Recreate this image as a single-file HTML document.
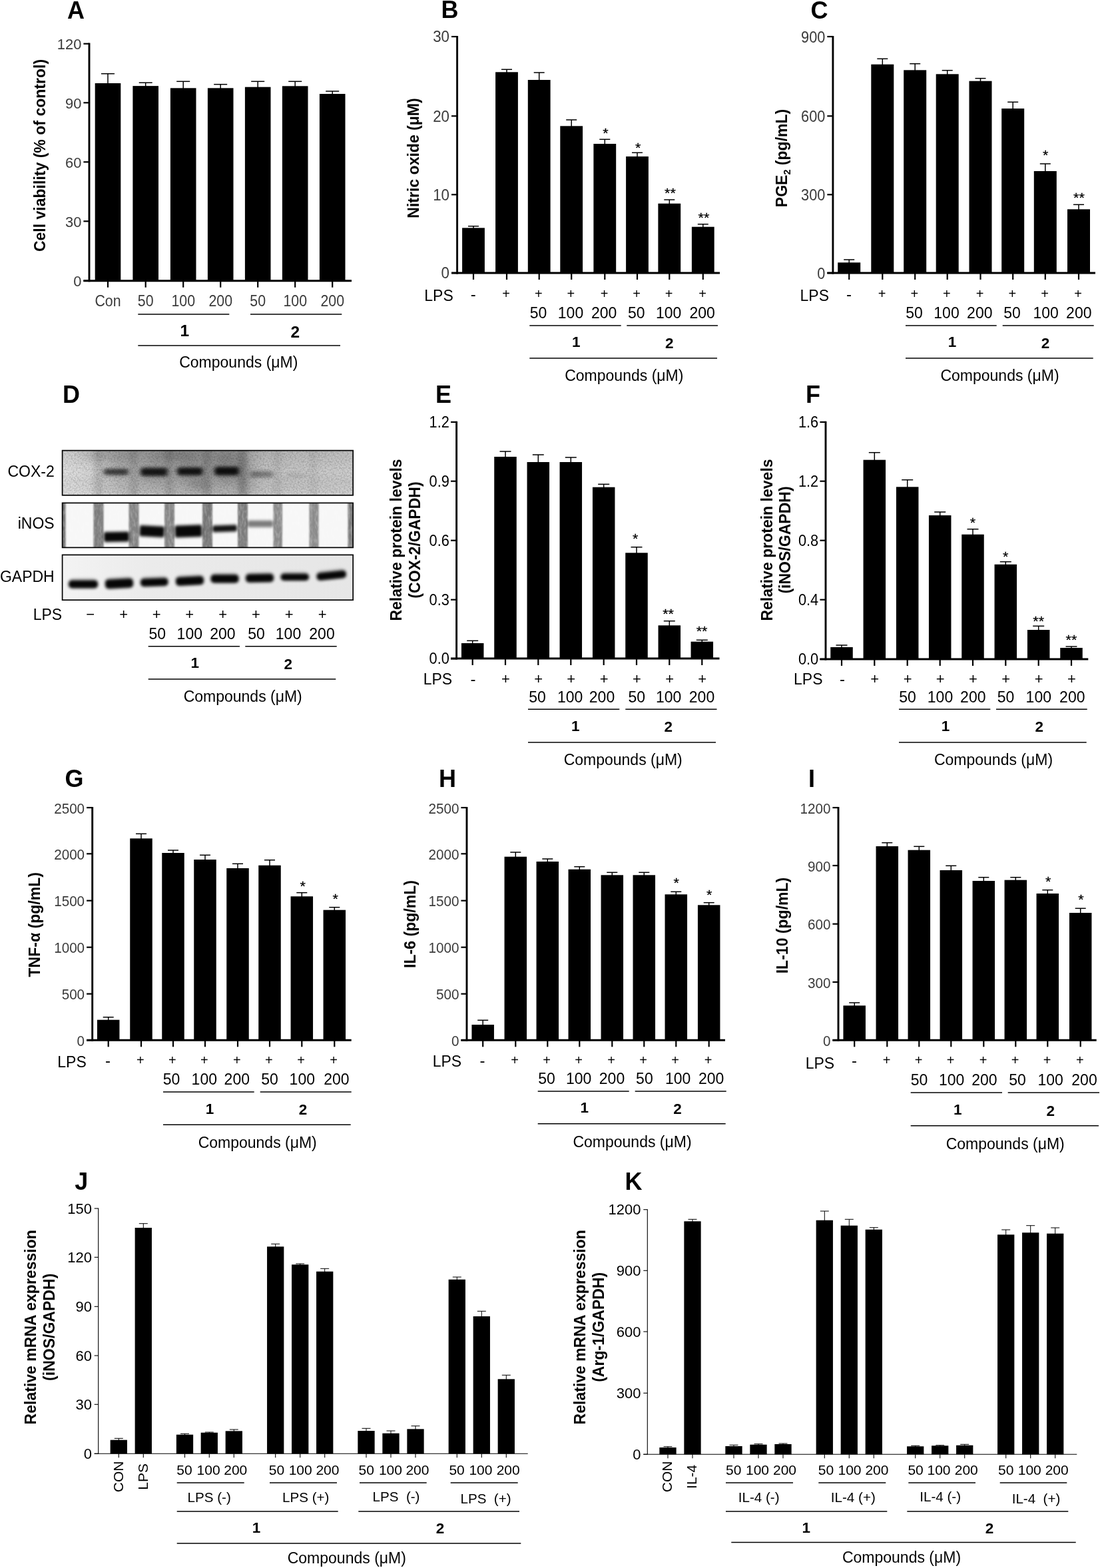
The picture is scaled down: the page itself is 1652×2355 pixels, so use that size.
<!DOCTYPE html>
<html lang="en"><head><meta charset="utf-8"><title>Figure</title>
<style>
html,body{margin:0;padding:0;background:#fff;}
body{width:1652px;height:2355px;font-family:'Liberation Sans', Arial, Helvetica, sans-serif;}
svg{display:block;}
text{white-space:pre;}
</style></head><body>
<svg width="1652" height="2355" viewBox="0 0 1652 2355" font-family="'Liberation Sans', Arial, Helvetica, sans-serif" role="img" aria-label="Figure panels A to K">
<rect width="1652" height="2355" fill="#fff"/>
<defs><filter id="soft" x="-10%" y="-20%" width="120%" height="140%"><feGaussianBlur stdDeviation="0.35"/></filter></defs>
<g id="panel-A">
<text transform="translate(101.00 27.70) scale(0.96 1)" font-size="37.5" text-anchor="start" font-weight="bold" fill="#000">A</text>
<line x1="162.00" y1="110.70" x2="162.00" y2="126.00" stroke="#000" stroke-width="1.5"/>
<line x1="152.00" y1="110.70" x2="172.00" y2="110.70" stroke="#000" stroke-width="1.5"/>
<rect x="142.70" y="125.00" width="38.60" height="296.70" fill="#000"/>
<line x1="218.70" y1="124.20" x2="218.70" y2="130.10" stroke="#000" stroke-width="1.5"/>
<line x1="208.70" y1="124.20" x2="228.70" y2="124.20" stroke="#000" stroke-width="1.5"/>
<rect x="199.40" y="129.10" width="38.60" height="292.60" fill="#000"/>
<line x1="275.20" y1="122.30" x2="275.20" y2="133.30" stroke="#000" stroke-width="1.5"/>
<line x1="265.20" y1="122.30" x2="285.20" y2="122.30" stroke="#000" stroke-width="1.5"/>
<rect x="255.90" y="132.30" width="38.60" height="289.40" fill="#000"/>
<line x1="331.20" y1="126.70" x2="331.20" y2="133.30" stroke="#000" stroke-width="1.5"/>
<line x1="321.20" y1="126.70" x2="341.20" y2="126.70" stroke="#000" stroke-width="1.5"/>
<rect x="311.90" y="132.30" width="38.60" height="289.40" fill="#000"/>
<line x1="387.20" y1="122.30" x2="387.20" y2="131.70" stroke="#000" stroke-width="1.5"/>
<line x1="377.20" y1="122.30" x2="397.20" y2="122.30" stroke="#000" stroke-width="1.5"/>
<rect x="367.90" y="130.70" width="38.60" height="291.00" fill="#000"/>
<line x1="443.20" y1="122.30" x2="443.20" y2="130.30" stroke="#000" stroke-width="1.5"/>
<line x1="433.20" y1="122.30" x2="453.20" y2="122.30" stroke="#000" stroke-width="1.5"/>
<rect x="423.90" y="129.30" width="38.60" height="292.40" fill="#000"/>
<line x1="499.20" y1="137.00" x2="499.20" y2="142.00" stroke="#000" stroke-width="1.5"/>
<line x1="489.20" y1="137.00" x2="509.20" y2="137.00" stroke="#000" stroke-width="1.5"/>
<rect x="479.90" y="141.00" width="38.60" height="280.70" fill="#000"/>
<line x1="134.00" y1="64.60" x2="134.00" y2="423.15" stroke="#000" stroke-width="2.9"/>
<line x1="125.40" y1="421.70" x2="528.00" y2="421.70" stroke="#000" stroke-width="2.9"/>
<line x1="125.40" y1="65.70" x2="134.00" y2="65.70" stroke="#000" stroke-width="2.2"/>
<text transform="translate(122.40 74.27) scale(0.97 1)" font-size="22.6" text-anchor="end" fill="#3a3a3a" filter="url(#soft)">120</text>
<line x1="125.40" y1="154.30" x2="134.00" y2="154.30" stroke="#000" stroke-width="2.2"/>
<text transform="translate(122.40 162.87) scale(0.97 1)" font-size="22.6" text-anchor="end" fill="#3a3a3a" filter="url(#soft)">90</text>
<line x1="125.40" y1="243.30" x2="134.00" y2="243.30" stroke="#000" stroke-width="2.2"/>
<text transform="translate(122.40 251.87) scale(0.97 1)" font-size="22.6" text-anchor="end" fill="#3a3a3a" filter="url(#soft)">60</text>
<line x1="125.40" y1="332.30" x2="134.00" y2="332.30" stroke="#000" stroke-width="2.2"/>
<text transform="translate(122.40 340.87) scale(0.97 1)" font-size="22.6" text-anchor="end" fill="#3a3a3a" filter="url(#soft)">30</text>
<line x1="125.40" y1="421.70" x2="134.00" y2="421.70" stroke="#000" stroke-width="2.2"/>
<text transform="translate(122.40 430.27) scale(0.97 1)" font-size="22.6" text-anchor="end" fill="#3a3a3a" filter="url(#soft)">0</text>
<line x1="162.00" y1="421.70" x2="162.00" y2="431.70" stroke="#000" stroke-width="2.2"/>
<line x1="218.70" y1="421.70" x2="218.70" y2="431.70" stroke="#000" stroke-width="2.2"/>
<line x1="275.20" y1="421.70" x2="275.20" y2="431.70" stroke="#000" stroke-width="2.2"/>
<line x1="331.20" y1="421.70" x2="331.20" y2="431.70" stroke="#000" stroke-width="2.2"/>
<line x1="387.20" y1="421.70" x2="387.20" y2="431.70" stroke="#000" stroke-width="2.2"/>
<line x1="443.20" y1="421.70" x2="443.20" y2="431.70" stroke="#000" stroke-width="2.2"/>
<line x1="499.20" y1="421.70" x2="499.20" y2="431.70" stroke="#000" stroke-width="2.2"/>
<text transform="translate(67.70 233.50) rotate(-90) scale(0.96 1)" font-size="24" text-anchor="middle" font-weight="bold" fill="#000">Cell viability (% of control)</text>
</g>
<g id="panel-B">
<text transform="translate(662.50 27.30) scale(0.96 1)" font-size="37.5" text-anchor="start" font-weight="bold" fill="#000">B</text>
<line x1="711.00" y1="339.70" x2="711.00" y2="343.30" stroke="#000" stroke-width="1.5"/>
<line x1="703.00" y1="339.70" x2="719.00" y2="339.70" stroke="#000" stroke-width="1.5"/>
<rect x="694.10" y="342.30" width="33.80" height="67.70" fill="#000"/>
<line x1="761.00" y1="104.30" x2="761.00" y2="109.30" stroke="#000" stroke-width="1.5"/>
<line x1="753.00" y1="104.30" x2="769.00" y2="104.30" stroke="#000" stroke-width="1.5"/>
<rect x="744.10" y="108.30" width="33.80" height="301.70" fill="#000"/>
<line x1="809.70" y1="109.00" x2="809.70" y2="121.00" stroke="#000" stroke-width="1.5"/>
<line x1="801.70" y1="109.00" x2="817.70" y2="109.00" stroke="#000" stroke-width="1.5"/>
<rect x="792.80" y="120.00" width="33.80" height="290.00" fill="#000"/>
<line x1="858.20" y1="180.00" x2="858.20" y2="190.30" stroke="#000" stroke-width="1.5"/>
<line x1="850.20" y1="180.00" x2="866.20" y2="180.00" stroke="#000" stroke-width="1.5"/>
<rect x="841.30" y="189.30" width="33.80" height="220.70" fill="#000"/>
<line x1="908.30" y1="209.30" x2="908.30" y2="217.00" stroke="#000" stroke-width="1.5"/>
<line x1="900.30" y1="209.30" x2="916.30" y2="209.30" stroke="#000" stroke-width="1.5"/>
<rect x="891.40" y="216.00" width="33.80" height="194.00" fill="#000"/>
<line x1="957.00" y1="229.30" x2="957.00" y2="236.00" stroke="#000" stroke-width="1.5"/>
<line x1="949.00" y1="229.30" x2="965.00" y2="229.30" stroke="#000" stroke-width="1.5"/>
<rect x="940.10" y="235.00" width="33.80" height="175.00" fill="#000"/>
<line x1="1005.30" y1="300.00" x2="1005.30" y2="306.70" stroke="#000" stroke-width="1.5"/>
<line x1="997.30" y1="300.00" x2="1013.30" y2="300.00" stroke="#000" stroke-width="1.5"/>
<rect x="988.40" y="305.70" width="33.80" height="104.30" fill="#000"/>
<line x1="1055.80" y1="336.70" x2="1055.80" y2="341.70" stroke="#000" stroke-width="1.5"/>
<line x1="1047.80" y1="336.70" x2="1063.80" y2="336.70" stroke="#000" stroke-width="1.5"/>
<rect x="1038.90" y="340.70" width="33.80" height="69.30" fill="#000"/>
<line x1="686.60" y1="54.10" x2="686.60" y2="411.45" stroke="#000" stroke-width="2.9"/>
<line x1="678.00" y1="410.00" x2="1081.00" y2="410.00" stroke="#000" stroke-width="2.9"/>
<line x1="678.00" y1="55.00" x2="686.60" y2="55.00" stroke="#000" stroke-width="2.2"/>
<text transform="translate(675.00 63.48) scale(0.95 1)" font-size="23.5" text-anchor="end" fill="#3a3a3a" filter="url(#soft)">30</text>
<line x1="678.00" y1="174.30" x2="686.60" y2="174.30" stroke="#000" stroke-width="2.2"/>
<text transform="translate(675.00 182.78) scale(0.95 1)" font-size="23.5" text-anchor="end" fill="#3a3a3a" filter="url(#soft)">20</text>
<line x1="678.00" y1="292.30" x2="686.60" y2="292.30" stroke="#000" stroke-width="2.2"/>
<text transform="translate(675.00 300.78) scale(0.95 1)" font-size="23.5" text-anchor="end" fill="#3a3a3a" filter="url(#soft)">10</text>
<line x1="678.00" y1="410.00" x2="686.60" y2="410.00" stroke="#000" stroke-width="2.2"/>
<text transform="translate(675.00 418.48) scale(0.95 1)" font-size="23.5" text-anchor="end" fill="#3a3a3a" filter="url(#soft)">0</text>
<line x1="711.00" y1="410.00" x2="711.00" y2="420.00" stroke="#000" stroke-width="2.2"/>
<line x1="761.00" y1="410.00" x2="761.00" y2="420.00" stroke="#000" stroke-width="2.2"/>
<line x1="809.70" y1="410.00" x2="809.70" y2="420.00" stroke="#000" stroke-width="2.2"/>
<line x1="858.20" y1="410.00" x2="858.20" y2="420.00" stroke="#000" stroke-width="2.2"/>
<line x1="908.30" y1="410.00" x2="908.30" y2="420.00" stroke="#000" stroke-width="2.2"/>
<line x1="957.00" y1="410.00" x2="957.00" y2="420.00" stroke="#000" stroke-width="2.2"/>
<line x1="1005.30" y1="410.00" x2="1005.30" y2="420.00" stroke="#000" stroke-width="2.2"/>
<line x1="1055.80" y1="410.00" x2="1055.80" y2="420.00" stroke="#000" stroke-width="2.2"/>
<text transform="translate(629.30 237.50) rotate(-90) scale(0.96 1)" font-size="24" text-anchor="middle" font-weight="bold" fill="#000">Nitric oxide (μM)</text>
<text transform="translate(909.50 207.00) scale(1.08 1)" font-size="20" text-anchor="middle" fill="#000" stroke="#000" stroke-width="0.25">*</text>
<text transform="translate(958.20 229.00) scale(1.08 1)" font-size="20" text-anchor="middle" fill="#000" stroke="#000" stroke-width="0.25">*</text>
<text transform="translate(1006.50 297.00) scale(1.08 1)" font-size="20" text-anchor="middle" fill="#000" stroke="#000" stroke-width="0.25">**</text>
<text transform="translate(1057.00 334.00) scale(1.08 1)" font-size="20" text-anchor="middle" fill="#000" stroke="#000" stroke-width="0.25">**</text>
</g>
<g id="panel-C">
<text transform="translate(1217.50 28.20) scale(0.96 1)" font-size="37.5" text-anchor="start" font-weight="bold" fill="#000">C</text>
<line x1="1275.20" y1="390.00" x2="1275.20" y2="395.30" stroke="#000" stroke-width="1.5"/>
<line x1="1267.20" y1="390.00" x2="1283.20" y2="390.00" stroke="#000" stroke-width="1.5"/>
<rect x="1258.20" y="394.30" width="34.00" height="15.70" fill="#000"/>
<line x1="1325.30" y1="88.30" x2="1325.30" y2="97.70" stroke="#000" stroke-width="1.5"/>
<line x1="1317.30" y1="88.30" x2="1333.30" y2="88.30" stroke="#000" stroke-width="1.5"/>
<rect x="1308.30" y="96.70" width="34.00" height="313.30" fill="#000"/>
<line x1="1374.20" y1="95.70" x2="1374.20" y2="106.30" stroke="#000" stroke-width="1.5"/>
<line x1="1366.20" y1="95.70" x2="1382.20" y2="95.70" stroke="#000" stroke-width="1.5"/>
<rect x="1357.20" y="105.30" width="34.00" height="304.70" fill="#000"/>
<line x1="1422.70" y1="105.70" x2="1422.70" y2="112.30" stroke="#000" stroke-width="1.5"/>
<line x1="1414.70" y1="105.70" x2="1430.70" y2="105.70" stroke="#000" stroke-width="1.5"/>
<rect x="1405.70" y="111.30" width="34.00" height="298.70" fill="#000"/>
<line x1="1472.50" y1="117.70" x2="1472.50" y2="122.70" stroke="#000" stroke-width="1.5"/>
<line x1="1464.50" y1="117.70" x2="1480.50" y2="117.70" stroke="#000" stroke-width="1.5"/>
<rect x="1455.50" y="121.70" width="34.00" height="288.30" fill="#000"/>
<line x1="1521.20" y1="153.30" x2="1521.20" y2="164.00" stroke="#000" stroke-width="1.5"/>
<line x1="1513.20" y1="153.30" x2="1529.20" y2="153.30" stroke="#000" stroke-width="1.5"/>
<rect x="1504.20" y="163.00" width="34.00" height="247.00" fill="#000"/>
<line x1="1569.80" y1="246.00" x2="1569.80" y2="258.00" stroke="#000" stroke-width="1.5"/>
<line x1="1561.80" y1="246.00" x2="1577.80" y2="246.00" stroke="#000" stroke-width="1.5"/>
<rect x="1552.80" y="257.00" width="34.00" height="153.00" fill="#000"/>
<line x1="1620.00" y1="307.30" x2="1620.00" y2="315.30" stroke="#000" stroke-width="1.5"/>
<line x1="1612.00" y1="307.30" x2="1628.00" y2="307.30" stroke="#000" stroke-width="1.5"/>
<rect x="1603.00" y="314.30" width="34.00" height="95.70" fill="#000"/>
<line x1="1250.90" y1="54.10" x2="1250.90" y2="411.45" stroke="#000" stroke-width="2.9"/>
<line x1="1242.30" y1="410.00" x2="1645.00" y2="410.00" stroke="#000" stroke-width="2.9"/>
<line x1="1242.30" y1="55.00" x2="1250.90" y2="55.00" stroke="#000" stroke-width="2.2"/>
<text transform="translate(1239.30 63.88) scale(0.925 1)" font-size="23.5" text-anchor="end" fill="#3a3a3a" filter="url(#soft)">900</text>
<line x1="1242.30" y1="174.30" x2="1250.90" y2="174.30" stroke="#000" stroke-width="2.2"/>
<text transform="translate(1239.30 183.18) scale(0.925 1)" font-size="23.5" text-anchor="end" fill="#3a3a3a" filter="url(#soft)">600</text>
<line x1="1242.30" y1="292.30" x2="1250.90" y2="292.30" stroke="#000" stroke-width="2.2"/>
<text transform="translate(1239.30 301.18) scale(0.925 1)" font-size="23.5" text-anchor="end" fill="#3a3a3a" filter="url(#soft)">300</text>
<line x1="1242.30" y1="410.00" x2="1250.90" y2="410.00" stroke="#000" stroke-width="2.2"/>
<text transform="translate(1239.30 418.88) scale(0.925 1)" font-size="23.5" text-anchor="end" fill="#3a3a3a" filter="url(#soft)">0</text>
<line x1="1275.20" y1="410.00" x2="1275.20" y2="420.00" stroke="#000" stroke-width="2.2"/>
<line x1="1325.30" y1="410.00" x2="1325.30" y2="420.00" stroke="#000" stroke-width="2.2"/>
<line x1="1374.20" y1="410.00" x2="1374.20" y2="420.00" stroke="#000" stroke-width="2.2"/>
<line x1="1422.70" y1="410.00" x2="1422.70" y2="420.00" stroke="#000" stroke-width="2.2"/>
<line x1="1472.50" y1="410.00" x2="1472.50" y2="420.00" stroke="#000" stroke-width="2.2"/>
<line x1="1521.20" y1="410.00" x2="1521.20" y2="420.00" stroke="#000" stroke-width="2.2"/>
<line x1="1569.80" y1="410.00" x2="1569.80" y2="420.00" stroke="#000" stroke-width="2.2"/>
<line x1="1620.00" y1="410.00" x2="1620.00" y2="420.00" stroke="#000" stroke-width="2.2"/>
<text transform="translate(1182.30 237.50) rotate(-90) scale(0.96 1)" font-size="24" text-anchor="middle" font-weight="bold" fill="#000">PGE<tspan font-size="15" dy="5">2</tspan><tspan dy="-5"> (pg/mL)</tspan></text>
<text transform="translate(1570.30 240.00) scale(1.08 1)" font-size="20" text-anchor="middle" fill="#000" stroke="#000" stroke-width="0.25">*</text>
<text transform="translate(1620.50 304.00) scale(1.08 1)" font-size="20" text-anchor="middle" fill="#000" stroke="#000" stroke-width="0.25">**</text>
</g>
<g id="panel-E">
<text transform="translate(654.00 605.30) scale(0.96 1)" font-size="37.5" text-anchor="start" font-weight="bold" fill="#000">E</text>
<line x1="709.70" y1="962.30" x2="709.70" y2="967.00" stroke="#000" stroke-width="1.5"/>
<line x1="701.20" y1="962.30" x2="718.20" y2="962.30" stroke="#000" stroke-width="1.5"/>
<rect x="692.95" y="966.00" width="33.50" height="23.00" fill="#000"/>
<line x1="759.00" y1="678.00" x2="759.00" y2="687.00" stroke="#000" stroke-width="1.5"/>
<line x1="750.50" y1="678.00" x2="767.50" y2="678.00" stroke="#000" stroke-width="1.5"/>
<rect x="742.25" y="686.00" width="33.50" height="303.00" fill="#000"/>
<line x1="808.30" y1="683.00" x2="808.30" y2="695.00" stroke="#000" stroke-width="1.5"/>
<line x1="799.80" y1="683.00" x2="816.80" y2="683.00" stroke="#000" stroke-width="1.5"/>
<rect x="791.55" y="694.00" width="33.50" height="295.00" fill="#000"/>
<line x1="857.30" y1="687.00" x2="857.30" y2="695.00" stroke="#000" stroke-width="1.5"/>
<line x1="848.80" y1="687.00" x2="865.80" y2="687.00" stroke="#000" stroke-width="1.5"/>
<rect x="840.55" y="694.00" width="33.50" height="295.00" fill="#000"/>
<line x1="906.70" y1="727.30" x2="906.70" y2="732.70" stroke="#000" stroke-width="1.5"/>
<line x1="898.20" y1="727.30" x2="915.20" y2="727.30" stroke="#000" stroke-width="1.5"/>
<rect x="889.95" y="731.70" width="33.50" height="257.30" fill="#000"/>
<line x1="956.00" y1="821.70" x2="956.00" y2="831.30" stroke="#000" stroke-width="1.5"/>
<line x1="947.50" y1="821.70" x2="964.50" y2="821.70" stroke="#000" stroke-width="1.5"/>
<rect x="939.25" y="830.30" width="33.50" height="158.70" fill="#000"/>
<line x1="1005.30" y1="932.70" x2="1005.30" y2="940.30" stroke="#000" stroke-width="1.5"/>
<line x1="996.80" y1="932.70" x2="1013.80" y2="932.70" stroke="#000" stroke-width="1.5"/>
<rect x="988.55" y="939.30" width="33.50" height="49.70" fill="#000"/>
<line x1="1054.30" y1="961.30" x2="1054.30" y2="964.70" stroke="#000" stroke-width="1.5"/>
<line x1="1045.80" y1="961.30" x2="1062.80" y2="961.30" stroke="#000" stroke-width="1.5"/>
<rect x="1037.55" y="963.70" width="33.50" height="25.30" fill="#000"/>
<line x1="685.60" y1="632.80" x2="685.60" y2="990.45" stroke="#000" stroke-width="2.9"/>
<line x1="677.00" y1="989.00" x2="1080.50" y2="989.00" stroke="#000" stroke-width="2.9"/>
<line x1="677.00" y1="633.90" x2="685.60" y2="633.90" stroke="#000" stroke-width="2.2"/>
<text transform="translate(674.80 641.92) scale(0.935 1)" font-size="23.3" text-anchor="end" fill="#000">1.2</text>
<line x1="677.00" y1="722.70" x2="685.60" y2="722.70" stroke="#000" stroke-width="2.2"/>
<text transform="translate(674.80 730.72) scale(0.935 1)" font-size="23.3" text-anchor="end" fill="#000">0.9</text>
<line x1="677.00" y1="811.70" x2="685.60" y2="811.70" stroke="#000" stroke-width="2.2"/>
<text transform="translate(674.80 819.72) scale(0.935 1)" font-size="23.3" text-anchor="end" fill="#000">0.6</text>
<line x1="677.00" y1="900.70" x2="685.60" y2="900.70" stroke="#000" stroke-width="2.2"/>
<text transform="translate(674.80 908.72) scale(0.935 1)" font-size="23.3" text-anchor="end" fill="#000">0.3</text>
<line x1="677.00" y1="989.30" x2="685.60" y2="989.30" stroke="#000" stroke-width="2.2"/>
<text transform="translate(674.80 997.32) scale(0.935 1)" font-size="23.3" text-anchor="end" fill="#000">0.0</text>
<line x1="709.70" y1="989.00" x2="709.70" y2="999.00" stroke="#000" stroke-width="2.2"/>
<line x1="759.00" y1="989.00" x2="759.00" y2="999.00" stroke="#000" stroke-width="2.2"/>
<line x1="808.30" y1="989.00" x2="808.30" y2="999.00" stroke="#000" stroke-width="2.2"/>
<line x1="857.30" y1="989.00" x2="857.30" y2="999.00" stroke="#000" stroke-width="2.2"/>
<line x1="906.70" y1="989.00" x2="906.70" y2="999.00" stroke="#000" stroke-width="2.2"/>
<line x1="956.00" y1="989.00" x2="956.00" y2="999.00" stroke="#000" stroke-width="2.2"/>
<line x1="1005.30" y1="989.00" x2="1005.30" y2="999.00" stroke="#000" stroke-width="2.2"/>
<line x1="1054.30" y1="989.00" x2="1054.30" y2="999.00" stroke="#000" stroke-width="2.2"/>
<text transform="translate(603.30 811.00) rotate(-90) scale(0.96 1)" font-size="24" text-anchor="middle" font-weight="bold" fill="#000">Relative protein levels</text>
<text transform="translate(630.80 811.00) rotate(-90) scale(0.96 1)" font-size="24" text-anchor="middle" font-weight="bold" fill="#000">(COX-2/GAPDH)</text>
<text transform="translate(954.30 815.50) scale(1.08 1)" font-size="20" text-anchor="middle" fill="#000" stroke="#000" stroke-width="0.25">*</text>
<text transform="translate(1003.60 929.40) scale(1.08 1)" font-size="20" text-anchor="middle" fill="#000" stroke="#000" stroke-width="0.25">**</text>
<text transform="translate(1054.10 955.00) scale(1.08 1)" font-size="20" text-anchor="middle" fill="#000" stroke="#000" stroke-width="0.25">**</text>
</g>
<g id="panel-F">
<text transform="translate(1210.00 605.30) scale(0.96 1)" font-size="37.5" text-anchor="start" font-weight="bold" fill="#000">F</text>
<line x1="1264.00" y1="969.00" x2="1264.00" y2="973.00" stroke="#000" stroke-width="1.5"/>
<line x1="1255.50" y1="969.00" x2="1272.50" y2="969.00" stroke="#000" stroke-width="1.5"/>
<rect x="1247.25" y="972.00" width="33.50" height="18.00" fill="#000"/>
<line x1="1313.30" y1="679.70" x2="1313.30" y2="691.70" stroke="#000" stroke-width="1.5"/>
<line x1="1304.80" y1="679.70" x2="1321.80" y2="679.70" stroke="#000" stroke-width="1.5"/>
<rect x="1296.55" y="690.70" width="33.50" height="299.30" fill="#000"/>
<line x1="1362.70" y1="720.70" x2="1362.70" y2="732.30" stroke="#000" stroke-width="1.5"/>
<line x1="1354.20" y1="720.70" x2="1371.20" y2="720.70" stroke="#000" stroke-width="1.5"/>
<rect x="1345.95" y="731.30" width="33.50" height="258.70" fill="#000"/>
<line x1="1411.70" y1="769.00" x2="1411.70" y2="775.00" stroke="#000" stroke-width="1.5"/>
<line x1="1403.20" y1="769.00" x2="1420.20" y2="769.00" stroke="#000" stroke-width="1.5"/>
<rect x="1394.95" y="774.00" width="33.50" height="216.00" fill="#000"/>
<line x1="1461.00" y1="794.70" x2="1461.00" y2="803.70" stroke="#000" stroke-width="1.5"/>
<line x1="1452.50" y1="794.70" x2="1469.50" y2="794.70" stroke="#000" stroke-width="1.5"/>
<rect x="1444.25" y="802.70" width="33.50" height="187.30" fill="#000"/>
<line x1="1510.30" y1="843.70" x2="1510.30" y2="848.70" stroke="#000" stroke-width="1.5"/>
<line x1="1501.80" y1="843.70" x2="1518.80" y2="843.70" stroke="#000" stroke-width="1.5"/>
<rect x="1493.55" y="847.70" width="33.50" height="142.30" fill="#000"/>
<line x1="1559.70" y1="940.30" x2="1559.70" y2="947.00" stroke="#000" stroke-width="1.5"/>
<line x1="1551.20" y1="940.30" x2="1568.20" y2="940.30" stroke="#000" stroke-width="1.5"/>
<rect x="1542.95" y="946.00" width="33.50" height="44.00" fill="#000"/>
<line x1="1609.00" y1="971.00" x2="1609.00" y2="974.00" stroke="#000" stroke-width="1.5"/>
<line x1="1600.50" y1="971.00" x2="1617.50" y2="971.00" stroke="#000" stroke-width="1.5"/>
<rect x="1592.25" y="973.00" width="33.50" height="17.00" fill="#000"/>
<line x1="1240.00" y1="632.80" x2="1240.00" y2="991.45" stroke="#000" stroke-width="2.9"/>
<line x1="1231.40" y1="990.00" x2="1634.30" y2="990.00" stroke="#000" stroke-width="2.9"/>
<line x1="1231.40" y1="633.90" x2="1240.00" y2="633.90" stroke="#000" stroke-width="2.2"/>
<text transform="translate(1229.20 641.92) scale(0.935 1)" font-size="23.3" text-anchor="end" fill="#000">1.6</text>
<line x1="1231.40" y1="722.70" x2="1240.00" y2="722.70" stroke="#000" stroke-width="2.2"/>
<text transform="translate(1229.20 730.72) scale(0.935 1)" font-size="23.3" text-anchor="end" fill="#000">1.2</text>
<line x1="1231.40" y1="811.70" x2="1240.00" y2="811.70" stroke="#000" stroke-width="2.2"/>
<text transform="translate(1229.20 819.72) scale(0.935 1)" font-size="23.3" text-anchor="end" fill="#000">0.8</text>
<line x1="1231.40" y1="900.70" x2="1240.00" y2="900.70" stroke="#000" stroke-width="2.2"/>
<text transform="translate(1229.20 908.72) scale(0.935 1)" font-size="23.3" text-anchor="end" fill="#000">0.4</text>
<line x1="1231.40" y1="990.00" x2="1240.00" y2="990.00" stroke="#000" stroke-width="2.2"/>
<text transform="translate(1229.20 998.02) scale(0.935 1)" font-size="23.3" text-anchor="end" fill="#000">0.0</text>
<line x1="1264.00" y1="990.00" x2="1264.00" y2="1000.00" stroke="#000" stroke-width="2.2"/>
<line x1="1313.30" y1="990.00" x2="1313.30" y2="1000.00" stroke="#000" stroke-width="2.2"/>
<line x1="1362.70" y1="990.00" x2="1362.70" y2="1000.00" stroke="#000" stroke-width="2.2"/>
<line x1="1411.70" y1="990.00" x2="1411.70" y2="1000.00" stroke="#000" stroke-width="2.2"/>
<line x1="1461.00" y1="990.00" x2="1461.00" y2="1000.00" stroke="#000" stroke-width="2.2"/>
<line x1="1510.30" y1="990.00" x2="1510.30" y2="1000.00" stroke="#000" stroke-width="2.2"/>
<line x1="1559.70" y1="990.00" x2="1559.70" y2="1000.00" stroke="#000" stroke-width="2.2"/>
<line x1="1609.00" y1="990.00" x2="1609.00" y2="1000.00" stroke="#000" stroke-width="2.2"/>
<text transform="translate(1159.70 811.00) rotate(-90) scale(0.96 1)" font-size="24" text-anchor="middle" font-weight="bold" fill="#000">Relative protein levels</text>
<text transform="translate(1187.20 811.00) rotate(-90) scale(0.96 1)" font-size="24" text-anchor="middle" font-weight="bold" fill="#000">(iNOS/GAPDH)</text>
<text transform="translate(1461.00 791.50) scale(1.08 1)" font-size="20" text-anchor="middle" fill="#000" stroke="#000" stroke-width="0.25">*</text>
<text transform="translate(1510.30 842.50) scale(1.08 1)" font-size="20" text-anchor="middle" fill="#000" stroke="#000" stroke-width="0.25">*</text>
<text transform="translate(1559.70 940.00) scale(1.08 1)" font-size="20" text-anchor="middle" fill="#000" stroke="#000" stroke-width="0.25">**</text>
<text transform="translate(1609.00 968.00) scale(1.08 1)" font-size="20" text-anchor="middle" fill="#000" stroke="#000" stroke-width="0.25">**</text>
</g>
<g id="panel-G">
<text transform="translate(97.50 1182.00) scale(0.96 1)" font-size="37.5" text-anchor="start" font-weight="bold" fill="#000">G</text>
<line x1="162.70" y1="1527.70" x2="162.70" y2="1532.70" stroke="#000" stroke-width="1.5"/>
<line x1="154.70" y1="1527.70" x2="170.70" y2="1527.70" stroke="#000" stroke-width="1.5"/>
<rect x="145.95" y="1531.70" width="33.50" height="30.60" fill="#000"/>
<line x1="212.00" y1="1252.30" x2="212.00" y2="1260.30" stroke="#000" stroke-width="1.5"/>
<line x1="204.00" y1="1252.30" x2="220.00" y2="1252.30" stroke="#000" stroke-width="1.5"/>
<rect x="195.25" y="1259.30" width="33.50" height="303.00" fill="#000"/>
<line x1="260.00" y1="1277.00" x2="260.00" y2="1282.00" stroke="#000" stroke-width="1.5"/>
<line x1="252.00" y1="1277.00" x2="268.00" y2="1277.00" stroke="#000" stroke-width="1.5"/>
<rect x="243.25" y="1281.00" width="33.50" height="281.30" fill="#000"/>
<line x1="308.00" y1="1284.30" x2="308.00" y2="1292.00" stroke="#000" stroke-width="1.5"/>
<line x1="300.00" y1="1284.30" x2="316.00" y2="1284.30" stroke="#000" stroke-width="1.5"/>
<rect x="291.25" y="1291.00" width="33.50" height="271.30" fill="#000"/>
<line x1="357.00" y1="1297.30" x2="357.00" y2="1305.00" stroke="#000" stroke-width="1.5"/>
<line x1="349.00" y1="1297.30" x2="365.00" y2="1297.30" stroke="#000" stroke-width="1.5"/>
<rect x="340.25" y="1304.00" width="33.50" height="258.30" fill="#000"/>
<line x1="405.00" y1="1291.70" x2="405.00" y2="1300.70" stroke="#000" stroke-width="1.5"/>
<line x1="397.00" y1="1291.70" x2="413.00" y2="1291.70" stroke="#000" stroke-width="1.5"/>
<rect x="388.25" y="1299.70" width="33.50" height="262.60" fill="#000"/>
<line x1="453.30" y1="1340.70" x2="453.30" y2="1347.30" stroke="#000" stroke-width="1.5"/>
<line x1="445.30" y1="1340.70" x2="461.30" y2="1340.70" stroke="#000" stroke-width="1.5"/>
<rect x="436.55" y="1346.30" width="33.50" height="216.00" fill="#000"/>
<line x1="502.30" y1="1362.70" x2="502.30" y2="1367.70" stroke="#000" stroke-width="1.5"/>
<line x1="494.30" y1="1362.70" x2="510.30" y2="1362.70" stroke="#000" stroke-width="1.5"/>
<rect x="485.55" y="1366.70" width="33.50" height="195.60" fill="#000"/>
<line x1="138.70" y1="1211.90" x2="138.70" y2="1563.75" stroke="#000" stroke-width="2.9"/>
<line x1="130.10" y1="1562.30" x2="527.70" y2="1562.30" stroke="#000" stroke-width="2.9"/>
<line x1="130.10" y1="1213.00" x2="138.70" y2="1213.00" stroke="#000" stroke-width="2.2"/>
<text transform="translate(127.10 1221.71) scale(0.91 1)" font-size="22.7" text-anchor="end" fill="#3a3a3a" filter="url(#soft)">2500</text>
<line x1="130.10" y1="1282.30" x2="138.70" y2="1282.30" stroke="#000" stroke-width="2.2"/>
<text transform="translate(127.10 1291.01) scale(0.91 1)" font-size="22.7" text-anchor="end" fill="#3a3a3a" filter="url(#soft)">2000</text>
<line x1="130.10" y1="1352.70" x2="138.70" y2="1352.70" stroke="#000" stroke-width="2.2"/>
<text transform="translate(127.10 1361.41) scale(0.91 1)" font-size="22.7" text-anchor="end" fill="#3a3a3a" filter="url(#soft)">1500</text>
<line x1="130.10" y1="1422.70" x2="138.70" y2="1422.70" stroke="#000" stroke-width="2.2"/>
<text transform="translate(127.10 1431.41) scale(0.91 1)" font-size="22.7" text-anchor="end" fill="#3a3a3a" filter="url(#soft)">1000</text>
<line x1="130.10" y1="1492.70" x2="138.70" y2="1492.70" stroke="#000" stroke-width="2.2"/>
<text transform="translate(127.10 1501.41) scale(0.91 1)" font-size="22.7" text-anchor="end" fill="#3a3a3a" filter="url(#soft)">500</text>
<line x1="130.10" y1="1562.30" x2="138.70" y2="1562.30" stroke="#000" stroke-width="2.2"/>
<text transform="translate(127.10 1571.01) scale(0.91 1)" font-size="22.7" text-anchor="end" fill="#3a3a3a" filter="url(#soft)">0</text>
<line x1="162.70" y1="1562.30" x2="162.70" y2="1572.30" stroke="#000" stroke-width="2.2"/>
<line x1="212.00" y1="1562.30" x2="212.00" y2="1572.30" stroke="#000" stroke-width="2.2"/>
<line x1="260.00" y1="1562.30" x2="260.00" y2="1572.30" stroke="#000" stroke-width="2.2"/>
<line x1="308.00" y1="1562.30" x2="308.00" y2="1572.30" stroke="#000" stroke-width="2.2"/>
<line x1="357.00" y1="1562.30" x2="357.00" y2="1572.30" stroke="#000" stroke-width="2.2"/>
<line x1="405.00" y1="1562.30" x2="405.00" y2="1572.30" stroke="#000" stroke-width="2.2"/>
<line x1="453.30" y1="1562.30" x2="453.30" y2="1572.30" stroke="#000" stroke-width="2.2"/>
<line x1="502.30" y1="1562.30" x2="502.30" y2="1572.30" stroke="#000" stroke-width="2.2"/>
<text transform="translate(59.60 1388.80) rotate(-90) scale(0.96 1)" font-size="24" text-anchor="middle" font-weight="bold" fill="#000">TNF-α (pg/mL)</text>
<text transform="translate(454.60 1338.00) scale(1.08 1)" font-size="20" text-anchor="middle" fill="#000" stroke="#000" stroke-width="0.25">*</text>
<text transform="translate(503.60 1356.50) scale(1.08 1)" font-size="20" text-anchor="middle" fill="#000" stroke="#000" stroke-width="0.25">*</text>
</g>
<g id="panel-H">
<text transform="translate(659.00 1182.00) scale(0.96 1)" font-size="37.5" text-anchor="start" font-weight="bold" fill="#000">H</text>
<line x1="725.20" y1="1532.30" x2="725.20" y2="1540.00" stroke="#000" stroke-width="1.5"/>
<line x1="717.20" y1="1532.30" x2="733.20" y2="1532.30" stroke="#000" stroke-width="1.5"/>
<rect x="708.45" y="1539.00" width="33.50" height="23.30" fill="#000"/>
<line x1="774.30" y1="1280.00" x2="774.30" y2="1287.70" stroke="#000" stroke-width="1.5"/>
<line x1="766.30" y1="1280.00" x2="782.30" y2="1280.00" stroke="#000" stroke-width="1.5"/>
<rect x="757.55" y="1286.70" width="33.50" height="275.60" fill="#000"/>
<line x1="822.30" y1="1290.00" x2="822.30" y2="1295.00" stroke="#000" stroke-width="1.5"/>
<line x1="814.30" y1="1290.00" x2="830.30" y2="1290.00" stroke="#000" stroke-width="1.5"/>
<rect x="805.55" y="1294.00" width="33.50" height="268.30" fill="#000"/>
<line x1="870.30" y1="1301.70" x2="870.30" y2="1306.70" stroke="#000" stroke-width="1.5"/>
<line x1="862.30" y1="1301.70" x2="878.30" y2="1301.70" stroke="#000" stroke-width="1.5"/>
<rect x="853.55" y="1305.70" width="33.50" height="256.60" fill="#000"/>
<line x1="919.30" y1="1310.30" x2="919.30" y2="1315.30" stroke="#000" stroke-width="1.5"/>
<line x1="911.30" y1="1310.30" x2="927.30" y2="1310.30" stroke="#000" stroke-width="1.5"/>
<rect x="902.55" y="1314.30" width="33.50" height="248.00" fill="#000"/>
<line x1="967.30" y1="1310.30" x2="967.30" y2="1315.30" stroke="#000" stroke-width="1.5"/>
<line x1="959.30" y1="1310.30" x2="975.30" y2="1310.30" stroke="#000" stroke-width="1.5"/>
<rect x="950.55" y="1314.30" width="33.50" height="248.00" fill="#000"/>
<line x1="1015.30" y1="1339.30" x2="1015.30" y2="1344.30" stroke="#000" stroke-width="1.5"/>
<line x1="1007.30" y1="1339.30" x2="1023.30" y2="1339.30" stroke="#000" stroke-width="1.5"/>
<rect x="998.55" y="1343.30" width="33.50" height="219.00" fill="#000"/>
<line x1="1064.70" y1="1355.70" x2="1064.70" y2="1360.30" stroke="#000" stroke-width="1.5"/>
<line x1="1056.70" y1="1355.70" x2="1072.70" y2="1355.70" stroke="#000" stroke-width="1.5"/>
<rect x="1047.95" y="1359.30" width="33.50" height="203.00" fill="#000"/>
<line x1="701.00" y1="1211.90" x2="701.00" y2="1563.75" stroke="#000" stroke-width="2.9"/>
<line x1="692.40" y1="1562.30" x2="1089.00" y2="1562.30" stroke="#000" stroke-width="2.9"/>
<line x1="692.40" y1="1213.00" x2="701.00" y2="1213.00" stroke="#000" stroke-width="2.2"/>
<text transform="translate(689.40 1221.71) scale(0.91 1)" font-size="22.7" text-anchor="end" fill="#3a3a3a" filter="url(#soft)">2500</text>
<line x1="692.40" y1="1282.30" x2="701.00" y2="1282.30" stroke="#000" stroke-width="2.2"/>
<text transform="translate(689.40 1291.01) scale(0.91 1)" font-size="22.7" text-anchor="end" fill="#3a3a3a" filter="url(#soft)">2000</text>
<line x1="692.40" y1="1352.70" x2="701.00" y2="1352.70" stroke="#000" stroke-width="2.2"/>
<text transform="translate(689.40 1361.41) scale(0.91 1)" font-size="22.7" text-anchor="end" fill="#3a3a3a" filter="url(#soft)">1500</text>
<line x1="692.40" y1="1422.70" x2="701.00" y2="1422.70" stroke="#000" stroke-width="2.2"/>
<text transform="translate(689.40 1431.41) scale(0.91 1)" font-size="22.7" text-anchor="end" fill="#3a3a3a" filter="url(#soft)">1000</text>
<line x1="692.40" y1="1492.70" x2="701.00" y2="1492.70" stroke="#000" stroke-width="2.2"/>
<text transform="translate(689.40 1501.41) scale(0.91 1)" font-size="22.7" text-anchor="end" fill="#3a3a3a" filter="url(#soft)">500</text>
<line x1="692.40" y1="1562.30" x2="701.00" y2="1562.30" stroke="#000" stroke-width="2.2"/>
<text transform="translate(689.40 1571.01) scale(0.91 1)" font-size="22.7" text-anchor="end" fill="#3a3a3a" filter="url(#soft)">0</text>
<line x1="725.20" y1="1562.30" x2="725.20" y2="1572.30" stroke="#000" stroke-width="2.2"/>
<line x1="774.30" y1="1562.30" x2="774.30" y2="1572.30" stroke="#000" stroke-width="2.2"/>
<line x1="822.30" y1="1562.30" x2="822.30" y2="1572.30" stroke="#000" stroke-width="2.2"/>
<line x1="870.30" y1="1562.30" x2="870.30" y2="1572.30" stroke="#000" stroke-width="2.2"/>
<line x1="919.30" y1="1562.30" x2="919.30" y2="1572.30" stroke="#000" stroke-width="2.2"/>
<line x1="967.30" y1="1562.30" x2="967.30" y2="1572.30" stroke="#000" stroke-width="2.2"/>
<line x1="1015.30" y1="1562.30" x2="1015.30" y2="1572.30" stroke="#000" stroke-width="2.2"/>
<line x1="1064.70" y1="1562.30" x2="1064.70" y2="1572.30" stroke="#000" stroke-width="2.2"/>
<text transform="translate(624.30 1388.00) rotate(-90) scale(0.96 1)" font-size="24" text-anchor="middle" font-weight="bold" fill="#000">IL-6 (pg/mL)</text>
<text transform="translate(1015.80 1332.50) scale(1.08 1)" font-size="20" text-anchor="middle" fill="#000" stroke="#000" stroke-width="0.25">*</text>
<text transform="translate(1065.20 1351.00) scale(1.08 1)" font-size="20" text-anchor="middle" fill="#000" stroke="#000" stroke-width="0.25">*</text>
</g>
<g id="panel-I">
<text transform="translate(1214.00 1182.00) scale(0.96 1)" font-size="37.5" text-anchor="start" font-weight="bold" fill="#000">I</text>
<line x1="1283.20" y1="1506.00" x2="1283.20" y2="1511.30" stroke="#000" stroke-width="1.5"/>
<line x1="1275.20" y1="1506.00" x2="1291.20" y2="1506.00" stroke="#000" stroke-width="1.5"/>
<rect x="1266.45" y="1510.30" width="33.50" height="52.00" fill="#000"/>
<line x1="1332.30" y1="1265.70" x2="1332.30" y2="1272.00" stroke="#000" stroke-width="1.5"/>
<line x1="1324.30" y1="1265.70" x2="1340.30" y2="1265.70" stroke="#000" stroke-width="1.5"/>
<rect x="1315.55" y="1271.00" width="33.50" height="291.30" fill="#000"/>
<line x1="1380.30" y1="1271.30" x2="1380.30" y2="1277.70" stroke="#000" stroke-width="1.5"/>
<line x1="1372.30" y1="1271.30" x2="1388.30" y2="1271.30" stroke="#000" stroke-width="1.5"/>
<rect x="1363.55" y="1276.70" width="33.50" height="285.60" fill="#000"/>
<line x1="1428.30" y1="1300.30" x2="1428.30" y2="1308.00" stroke="#000" stroke-width="1.5"/>
<line x1="1420.30" y1="1300.30" x2="1436.30" y2="1300.30" stroke="#000" stroke-width="1.5"/>
<rect x="1411.55" y="1307.00" width="33.50" height="255.30" fill="#000"/>
<line x1="1477.30" y1="1317.70" x2="1477.30" y2="1324.00" stroke="#000" stroke-width="1.5"/>
<line x1="1469.30" y1="1317.70" x2="1485.30" y2="1317.70" stroke="#000" stroke-width="1.5"/>
<rect x="1460.55" y="1323.00" width="33.50" height="239.30" fill="#000"/>
<line x1="1525.30" y1="1317.70" x2="1525.30" y2="1322.70" stroke="#000" stroke-width="1.5"/>
<line x1="1517.30" y1="1317.70" x2="1533.30" y2="1317.70" stroke="#000" stroke-width="1.5"/>
<rect x="1508.55" y="1321.70" width="33.50" height="240.60" fill="#000"/>
<line x1="1573.30" y1="1336.70" x2="1573.30" y2="1343.00" stroke="#000" stroke-width="1.5"/>
<line x1="1565.30" y1="1336.70" x2="1581.30" y2="1336.70" stroke="#000" stroke-width="1.5"/>
<rect x="1556.55" y="1342.00" width="33.50" height="220.30" fill="#000"/>
<line x1="1622.70" y1="1364.30" x2="1622.70" y2="1372.00" stroke="#000" stroke-width="1.5"/>
<line x1="1614.70" y1="1364.30" x2="1630.70" y2="1364.30" stroke="#000" stroke-width="1.5"/>
<rect x="1605.95" y="1371.00" width="33.50" height="191.30" fill="#000"/>
<line x1="1259.00" y1="1211.90" x2="1259.00" y2="1563.75" stroke="#000" stroke-width="2.9"/>
<line x1="1250.40" y1="1562.30" x2="1646.70" y2="1562.30" stroke="#000" stroke-width="2.9"/>
<line x1="1250.40" y1="1213.00" x2="1259.00" y2="1213.00" stroke="#000" stroke-width="2.2"/>
<text transform="translate(1247.40 1221.71) scale(0.91 1)" font-size="22.7" text-anchor="end" fill="#3a3a3a" filter="url(#soft)">1200</text>
<line x1="1250.40" y1="1300.00" x2="1259.00" y2="1300.00" stroke="#000" stroke-width="2.2"/>
<text transform="translate(1247.40 1308.71) scale(0.91 1)" font-size="22.7" text-anchor="end" fill="#3a3a3a" filter="url(#soft)">900</text>
<line x1="1250.40" y1="1387.70" x2="1259.00" y2="1387.70" stroke="#000" stroke-width="2.2"/>
<text transform="translate(1247.40 1396.41) scale(0.91 1)" font-size="22.7" text-anchor="end" fill="#3a3a3a" filter="url(#soft)">600</text>
<line x1="1250.40" y1="1475.00" x2="1259.00" y2="1475.00" stroke="#000" stroke-width="2.2"/>
<text transform="translate(1247.40 1483.71) scale(0.91 1)" font-size="22.7" text-anchor="end" fill="#3a3a3a" filter="url(#soft)">300</text>
<line x1="1250.40" y1="1562.30" x2="1259.00" y2="1562.30" stroke="#000" stroke-width="2.2"/>
<text transform="translate(1247.40 1571.01) scale(0.91 1)" font-size="22.7" text-anchor="end" fill="#3a3a3a" filter="url(#soft)">0</text>
<line x1="1283.20" y1="1562.30" x2="1283.20" y2="1572.30" stroke="#000" stroke-width="2.2"/>
<line x1="1332.30" y1="1562.30" x2="1332.30" y2="1572.30" stroke="#000" stroke-width="2.2"/>
<line x1="1380.30" y1="1562.30" x2="1380.30" y2="1572.30" stroke="#000" stroke-width="2.2"/>
<line x1="1428.30" y1="1562.30" x2="1428.30" y2="1572.30" stroke="#000" stroke-width="2.2"/>
<line x1="1477.30" y1="1562.30" x2="1477.30" y2="1572.30" stroke="#000" stroke-width="2.2"/>
<line x1="1525.30" y1="1562.30" x2="1525.30" y2="1572.30" stroke="#000" stroke-width="2.2"/>
<line x1="1573.30" y1="1562.30" x2="1573.30" y2="1572.30" stroke="#000" stroke-width="2.2"/>
<line x1="1622.70" y1="1562.30" x2="1622.70" y2="1572.30" stroke="#000" stroke-width="2.2"/>
<text transform="translate(1183.40 1390.00) rotate(-90) scale(0.96 1)" font-size="24" text-anchor="middle" font-weight="bold" fill="#000">IL-10 (pg/mL)</text>
<text transform="translate(1574.10 1331.00) scale(1.08 1)" font-size="20" text-anchor="middle" fill="#000" stroke="#000" stroke-width="0.25">*</text>
<text transform="translate(1623.50 1358.00) scale(1.08 1)" font-size="20" text-anchor="middle" fill="#000" stroke="#000" stroke-width="0.25">*</text>
</g>
<g id="panel-J">
<text transform="translate(112.30 1786.80) scale(0.96 1)" font-size="37.5" text-anchor="start" font-weight="bold" fill="#000">J</text>
<line x1="178.30" y1="2160.30" x2="178.30" y2="2163.70" stroke="#000" stroke-width="1"/>
<line x1="171.80" y1="2160.30" x2="184.80" y2="2160.30" stroke="#000" stroke-width="1"/>
<rect x="165.65" y="2162.70" width="25.30" height="20.60" fill="#000"/>
<line x1="215.30" y1="1837.70" x2="215.30" y2="1845.00" stroke="#000" stroke-width="1"/>
<line x1="208.80" y1="1837.70" x2="221.80" y2="1837.70" stroke="#000" stroke-width="1"/>
<rect x="202.65" y="1844.00" width="25.30" height="339.30" fill="#000"/>
<line x1="277.50" y1="2153.30" x2="277.50" y2="2155.70" stroke="#000" stroke-width="1"/>
<line x1="271.00" y1="2153.30" x2="284.00" y2="2153.30" stroke="#000" stroke-width="1"/>
<rect x="264.85" y="2154.70" width="25.30" height="28.60" fill="#000"/>
<line x1="314.30" y1="2151.00" x2="314.30" y2="2152.70" stroke="#000" stroke-width="1"/>
<line x1="307.80" y1="2151.00" x2="320.80" y2="2151.00" stroke="#000" stroke-width="1"/>
<rect x="301.65" y="2151.70" width="25.30" height="31.60" fill="#000"/>
<line x1="351.30" y1="2147.00" x2="351.30" y2="2150.30" stroke="#000" stroke-width="1"/>
<line x1="344.80" y1="2147.00" x2="357.80" y2="2147.00" stroke="#000" stroke-width="1"/>
<rect x="338.65" y="2149.30" width="25.30" height="34.00" fill="#000"/>
<line x1="413.70" y1="1868.30" x2="413.70" y2="1873.30" stroke="#000" stroke-width="1"/>
<line x1="407.20" y1="1868.30" x2="420.20" y2="1868.30" stroke="#000" stroke-width="1"/>
<rect x="401.05" y="1872.30" width="25.30" height="311.00" fill="#000"/>
<line x1="450.70" y1="1898.00" x2="450.70" y2="1900.30" stroke="#000" stroke-width="1"/>
<line x1="444.20" y1="1898.00" x2="457.20" y2="1898.00" stroke="#000" stroke-width="1"/>
<rect x="438.05" y="1899.30" width="25.30" height="284.00" fill="#000"/>
<line x1="487.70" y1="1905.30" x2="487.70" y2="1910.70" stroke="#000" stroke-width="1"/>
<line x1="481.20" y1="1905.30" x2="494.20" y2="1905.30" stroke="#000" stroke-width="1"/>
<rect x="475.05" y="1909.70" width="25.30" height="273.60" fill="#000"/>
<line x1="550.00" y1="2145.30" x2="550.00" y2="2150.00" stroke="#000" stroke-width="1"/>
<line x1="543.50" y1="2145.30" x2="556.50" y2="2145.30" stroke="#000" stroke-width="1"/>
<rect x="537.35" y="2149.00" width="25.30" height="34.30" fill="#000"/>
<line x1="587.00" y1="2149.00" x2="587.00" y2="2153.70" stroke="#000" stroke-width="1"/>
<line x1="580.50" y1="2149.00" x2="593.50" y2="2149.00" stroke="#000" stroke-width="1"/>
<rect x="574.35" y="2152.70" width="25.30" height="30.60" fill="#000"/>
<line x1="624.00" y1="2141.70" x2="624.00" y2="2147.30" stroke="#000" stroke-width="1"/>
<line x1="617.50" y1="2141.70" x2="630.50" y2="2141.70" stroke="#000" stroke-width="1"/>
<rect x="611.35" y="2146.30" width="25.30" height="37.00" fill="#000"/>
<line x1="686.30" y1="1918.00" x2="686.30" y2="1922.70" stroke="#000" stroke-width="1"/>
<line x1="679.80" y1="1918.00" x2="692.80" y2="1918.00" stroke="#000" stroke-width="1"/>
<rect x="673.65" y="1921.70" width="25.30" height="261.60" fill="#000"/>
<line x1="723.30" y1="1969.30" x2="723.30" y2="1978.00" stroke="#000" stroke-width="1"/>
<line x1="716.80" y1="1969.30" x2="729.80" y2="1969.30" stroke="#000" stroke-width="1"/>
<rect x="710.65" y="1977.00" width="25.30" height="206.30" fill="#000"/>
<line x1="760.30" y1="2065.30" x2="760.30" y2="2072.30" stroke="#000" stroke-width="1"/>
<line x1="753.80" y1="2065.30" x2="766.80" y2="2065.30" stroke="#000" stroke-width="1"/>
<rect x="747.65" y="2071.30" width="25.30" height="112.00" fill="#000"/>
<line x1="147.70" y1="1814.45" x2="147.70" y2="2183.85" stroke="#000" stroke-width="1.1"/>
<line x1="141.70" y1="2183.30" x2="792.70" y2="2183.30" stroke="#000" stroke-width="1.1"/>
<line x1="141.70" y1="1815.00" x2="147.70" y2="1815.00" stroke="#000" stroke-width="1.1"/>
<text x="137.90" y="1822.57" font-size="22" text-anchor="end" fill="#000">150</text>
<line x1="141.70" y1="1888.30" x2="147.70" y2="1888.30" stroke="#000" stroke-width="1.1"/>
<text x="137.90" y="1895.87" font-size="22" text-anchor="end" fill="#000">120</text>
<line x1="141.70" y1="1962.30" x2="147.70" y2="1962.30" stroke="#000" stroke-width="1.1"/>
<text x="137.90" y="1969.87" font-size="22" text-anchor="end" fill="#000">90</text>
<line x1="141.70" y1="2036.00" x2="147.70" y2="2036.00" stroke="#000" stroke-width="1.1"/>
<text x="137.90" y="2043.57" font-size="22" text-anchor="end" fill="#000">60</text>
<line x1="141.70" y1="2109.30" x2="147.70" y2="2109.30" stroke="#000" stroke-width="1.1"/>
<text x="137.90" y="2116.87" font-size="22" text-anchor="end" fill="#000">30</text>
<line x1="141.70" y1="2183.30" x2="147.70" y2="2183.30" stroke="#000" stroke-width="1.1"/>
<text x="137.90" y="2190.87" font-size="22" text-anchor="end" fill="#000">0</text>
<line x1="178.30" y1="2183.30" x2="178.30" y2="2189.30" stroke="#000" stroke-width="1.1"/>
<line x1="215.30" y1="2183.30" x2="215.30" y2="2189.30" stroke="#000" stroke-width="1.1"/>
<line x1="277.50" y1="2183.30" x2="277.50" y2="2189.30" stroke="#000" stroke-width="1.1"/>
<line x1="314.30" y1="2183.30" x2="314.30" y2="2189.30" stroke="#000" stroke-width="1.1"/>
<line x1="351.30" y1="2183.30" x2="351.30" y2="2189.30" stroke="#000" stroke-width="1.1"/>
<line x1="413.70" y1="2183.30" x2="413.70" y2="2189.30" stroke="#000" stroke-width="1.1"/>
<line x1="450.70" y1="2183.30" x2="450.70" y2="2189.30" stroke="#000" stroke-width="1.1"/>
<line x1="487.70" y1="2183.30" x2="487.70" y2="2189.30" stroke="#000" stroke-width="1.1"/>
<line x1="550.00" y1="2183.30" x2="550.00" y2="2189.30" stroke="#000" stroke-width="1.1"/>
<line x1="587.00" y1="2183.30" x2="587.00" y2="2189.30" stroke="#000" stroke-width="1.1"/>
<line x1="624.00" y1="2183.30" x2="624.00" y2="2189.30" stroke="#000" stroke-width="1.1"/>
<line x1="686.30" y1="2183.30" x2="686.30" y2="2189.30" stroke="#000" stroke-width="1.1"/>
<line x1="723.30" y1="2183.30" x2="723.30" y2="2189.30" stroke="#000" stroke-width="1.1"/>
<line x1="760.30" y1="2183.30" x2="760.30" y2="2189.30" stroke="#000" stroke-width="1.1"/>
<text transform="translate(54.30 1993.30) rotate(-90) scale(0.96 1)" font-size="24" text-anchor="middle" font-weight="bold" fill="#000">Relative mRNA expression</text>
<text transform="translate(82.20 1993.30) rotate(-90) scale(0.96 1)" font-size="24" text-anchor="middle" font-weight="bold" fill="#000">(iNOS/GAPDH)</text>
</g>
<g id="panel-K">
<text transform="translate(938.50 1786.80) scale(0.96 1)" font-size="37.5" text-anchor="start" font-weight="bold" fill="#000">K</text>
<line x1="1003.00" y1="2172.70" x2="1003.00" y2="2175.00" stroke="#000" stroke-width="1"/>
<line x1="996.50" y1="2172.70" x2="1009.50" y2="2172.70" stroke="#000" stroke-width="1"/>
<rect x="990.35" y="2174.00" width="25.30" height="10.30" fill="#000"/>
<line x1="1040.00" y1="1831.30" x2="1040.00" y2="1835.30" stroke="#000" stroke-width="1"/>
<line x1="1033.50" y1="1831.30" x2="1046.50" y2="1831.30" stroke="#000" stroke-width="1"/>
<rect x="1027.35" y="1834.30" width="25.30" height="350.00" fill="#000"/>
<line x1="1102.00" y1="2170.30" x2="1102.00" y2="2173.00" stroke="#000" stroke-width="1"/>
<line x1="1095.50" y1="2170.30" x2="1108.50" y2="2170.30" stroke="#000" stroke-width="1"/>
<rect x="1089.35" y="2172.00" width="25.30" height="12.30" fill="#000"/>
<line x1="1139.00" y1="2168.70" x2="1139.00" y2="2170.70" stroke="#000" stroke-width="1"/>
<line x1="1132.50" y1="2168.70" x2="1145.50" y2="2168.70" stroke="#000" stroke-width="1"/>
<rect x="1126.35" y="2169.70" width="25.30" height="14.60" fill="#000"/>
<line x1="1176.00" y1="2168.00" x2="1176.00" y2="2170.00" stroke="#000" stroke-width="1"/>
<line x1="1169.50" y1="2168.00" x2="1182.50" y2="2168.00" stroke="#000" stroke-width="1"/>
<rect x="1163.35" y="2169.00" width="25.30" height="15.30" fill="#000"/>
<line x1="1238.30" y1="1819.00" x2="1238.30" y2="1833.70" stroke="#000" stroke-width="1"/>
<line x1="1231.80" y1="1819.00" x2="1244.80" y2="1819.00" stroke="#000" stroke-width="1"/>
<rect x="1225.65" y="1832.70" width="25.30" height="351.60" fill="#000"/>
<line x1="1275.30" y1="1831.30" x2="1275.30" y2="1841.70" stroke="#000" stroke-width="1"/>
<line x1="1268.80" y1="1831.30" x2="1281.80" y2="1831.30" stroke="#000" stroke-width="1"/>
<rect x="1262.65" y="1840.70" width="25.30" height="343.60" fill="#000"/>
<line x1="1312.30" y1="1843.70" x2="1312.30" y2="1847.70" stroke="#000" stroke-width="1"/>
<line x1="1305.80" y1="1843.70" x2="1318.80" y2="1843.70" stroke="#000" stroke-width="1"/>
<rect x="1299.65" y="1846.70" width="25.30" height="337.60" fill="#000"/>
<line x1="1374.70" y1="2171.30" x2="1374.70" y2="2173.30" stroke="#000" stroke-width="1"/>
<line x1="1368.20" y1="2171.30" x2="1381.20" y2="2171.30" stroke="#000" stroke-width="1"/>
<rect x="1362.05" y="2172.30" width="25.30" height="12.00" fill="#000"/>
<line x1="1411.70" y1="2170.70" x2="1411.70" y2="2172.30" stroke="#000" stroke-width="1"/>
<line x1="1405.20" y1="2170.70" x2="1418.20" y2="2170.70" stroke="#000" stroke-width="1"/>
<rect x="1399.05" y="2171.30" width="25.30" height="13.00" fill="#000"/>
<line x1="1448.70" y1="2169.30" x2="1448.70" y2="2171.70" stroke="#000" stroke-width="1"/>
<line x1="1442.20" y1="2169.30" x2="1455.20" y2="2169.30" stroke="#000" stroke-width="1"/>
<rect x="1436.05" y="2170.70" width="25.30" height="13.60" fill="#000"/>
<line x1="1510.70" y1="1847.00" x2="1510.70" y2="1855.30" stroke="#000" stroke-width="1"/>
<line x1="1504.20" y1="1847.00" x2="1517.20" y2="1847.00" stroke="#000" stroke-width="1"/>
<rect x="1498.05" y="1854.30" width="25.30" height="330.00" fill="#000"/>
<line x1="1547.70" y1="1840.70" x2="1547.70" y2="1852.30" stroke="#000" stroke-width="1"/>
<line x1="1541.20" y1="1840.70" x2="1554.20" y2="1840.70" stroke="#000" stroke-width="1"/>
<rect x="1535.05" y="1851.30" width="25.30" height="333.00" fill="#000"/>
<line x1="1584.70" y1="1844.00" x2="1584.70" y2="1853.70" stroke="#000" stroke-width="1"/>
<line x1="1578.20" y1="1844.00" x2="1591.20" y2="1844.00" stroke="#000" stroke-width="1"/>
<rect x="1572.05" y="1852.70" width="25.30" height="331.60" fill="#000"/>
<line x1="972.30" y1="1816.15" x2="972.30" y2="2184.85" stroke="#000" stroke-width="1.1"/>
<line x1="966.30" y1="2184.30" x2="1617.30" y2="2184.30" stroke="#000" stroke-width="1.1"/>
<line x1="966.30" y1="1816.70" x2="972.30" y2="1816.70" stroke="#000" stroke-width="1.1"/>
<text x="962.50" y="1824.27" font-size="22" text-anchor="end" fill="#000">1200</text>
<line x1="966.30" y1="1908.30" x2="972.30" y2="1908.30" stroke="#000" stroke-width="1.1"/>
<text x="962.50" y="1915.87" font-size="22" text-anchor="end" fill="#000">900</text>
<line x1="966.30" y1="2000.00" x2="972.30" y2="2000.00" stroke="#000" stroke-width="1.1"/>
<text x="962.50" y="2007.57" font-size="22" text-anchor="end" fill="#000">600</text>
<line x1="966.30" y1="2092.30" x2="972.30" y2="2092.30" stroke="#000" stroke-width="1.1"/>
<text x="962.50" y="2099.87" font-size="22" text-anchor="end" fill="#000">300</text>
<line x1="966.30" y1="2184.30" x2="972.30" y2="2184.30" stroke="#000" stroke-width="1.1"/>
<text x="962.50" y="2191.87" font-size="22" text-anchor="end" fill="#000">0</text>
<line x1="1003.00" y1="2184.30" x2="1003.00" y2="2190.30" stroke="#000" stroke-width="1.1"/>
<line x1="1040.00" y1="2184.30" x2="1040.00" y2="2190.30" stroke="#000" stroke-width="1.1"/>
<line x1="1102.00" y1="2184.30" x2="1102.00" y2="2190.30" stroke="#000" stroke-width="1.1"/>
<line x1="1139.00" y1="2184.30" x2="1139.00" y2="2190.30" stroke="#000" stroke-width="1.1"/>
<line x1="1176.00" y1="2184.30" x2="1176.00" y2="2190.30" stroke="#000" stroke-width="1.1"/>
<line x1="1238.30" y1="2184.30" x2="1238.30" y2="2190.30" stroke="#000" stroke-width="1.1"/>
<line x1="1275.30" y1="2184.30" x2="1275.30" y2="2190.30" stroke="#000" stroke-width="1.1"/>
<line x1="1312.30" y1="2184.30" x2="1312.30" y2="2190.30" stroke="#000" stroke-width="1.1"/>
<line x1="1374.70" y1="2184.30" x2="1374.70" y2="2190.30" stroke="#000" stroke-width="1.1"/>
<line x1="1411.70" y1="2184.30" x2="1411.70" y2="2190.30" stroke="#000" stroke-width="1.1"/>
<line x1="1448.70" y1="2184.30" x2="1448.70" y2="2190.30" stroke="#000" stroke-width="1.1"/>
<line x1="1510.70" y1="2184.30" x2="1510.70" y2="2190.30" stroke="#000" stroke-width="1.1"/>
<line x1="1547.70" y1="2184.30" x2="1547.70" y2="2190.30" stroke="#000" stroke-width="1.1"/>
<line x1="1584.70" y1="2184.30" x2="1584.70" y2="2190.30" stroke="#000" stroke-width="1.1"/>
<text transform="translate(879.30 1993.30) rotate(-90) scale(0.96 1)" font-size="24" text-anchor="middle" font-weight="bold" fill="#000">Relative mRNA expression</text>
<text transform="translate(906.80 1993.30) rotate(-90) scale(0.96 1)" font-size="24" text-anchor="middle" font-weight="bold" fill="#000">(Arg-1/GAPDH)</text>
</g>
<g id="footer-A">
<text transform="translate(162.00 459.50) scale(0.89 1)" font-size="24" text-anchor="middle" fill="#3a3a3a" filter="url(#soft)">Con</text>
<text transform="translate(218.70 459.50) scale(0.89 1)" font-size="24" text-anchor="middle" fill="#3a3a3a" filter="url(#soft)">50</text>
<text transform="translate(275.20 459.50) scale(0.89 1)" font-size="24" text-anchor="middle" fill="#3a3a3a" filter="url(#soft)">100</text>
<text transform="translate(331.20 459.50) scale(0.89 1)" font-size="24" text-anchor="middle" fill="#3a3a3a" filter="url(#soft)">200</text>
<text transform="translate(387.20 459.50) scale(0.89 1)" font-size="24" text-anchor="middle" fill="#3a3a3a" filter="url(#soft)">50</text>
<text transform="translate(443.20 459.50) scale(0.89 1)" font-size="24" text-anchor="middle" fill="#3a3a3a" filter="url(#soft)">100</text>
<text transform="translate(499.20 459.50) scale(0.89 1)" font-size="24" text-anchor="middle" fill="#3a3a3a" filter="url(#soft)">200</text>
<line x1="207.30" y1="472.00" x2="344.30" y2="472.00" stroke="#000" stroke-width="1.5"/>
<line x1="376.00" y1="472.00" x2="513.30" y2="472.00" stroke="#000" stroke-width="1.5"/>
<text x="277.30" y="505.00" font-size="24.5" text-anchor="middle" font-weight="bold" fill="#000">1</text>
<text x="443.30" y="507.00" font-size="24.5" text-anchor="middle" font-weight="bold" fill="#000">2</text>
<line x1="207.30" y1="519.00" x2="511.00" y2="519.00" stroke="#000" stroke-width="1.5"/>
<text x="358.30" y="552.00" font-size="23" text-anchor="middle" fill="#000">Compounds (μM)</text>
</g>
<g id="footer-B">
<text x="680.80" y="451.60" font-size="23" text-anchor="end" fill="#000">LPS</text>
<text x="710.70" y="449.50" font-size="24" text-anchor="middle" fill="#000">-</text>
<text x="760.20" y="447.80" font-size="20" text-anchor="middle" fill="#000">+</text>
<text x="808.90" y="447.80" font-size="20" text-anchor="middle" fill="#000">+</text>
<text x="857.40" y="447.80" font-size="20" text-anchor="middle" fill="#000">+</text>
<text x="907.50" y="447.80" font-size="20" text-anchor="middle" fill="#000">+</text>
<text x="956.20" y="447.80" font-size="20" text-anchor="middle" fill="#000">+</text>
<text x="1004.50" y="447.80" font-size="20" text-anchor="middle" fill="#000">+</text>
<text x="1055.00" y="447.80" font-size="20" text-anchor="middle" fill="#000">+</text>
<text x="808.50" y="478.00" font-size="23" text-anchor="middle" fill="#000">50</text>
<text x="857.00" y="478.00" font-size="23" text-anchor="middle" fill="#000">100</text>
<text x="907.10" y="478.00" font-size="23" text-anchor="middle" fill="#000">200</text>
<text x="955.80" y="478.00" font-size="23" text-anchor="middle" fill="#000">50</text>
<text x="1004.10" y="478.00" font-size="23" text-anchor="middle" fill="#000">100</text>
<text x="1054.60" y="478.00" font-size="23" text-anchor="middle" fill="#000">200</text>
<line x1="795.30" y1="489.00" x2="932.70" y2="489.00" stroke="#000" stroke-width="1.5"/>
<line x1="941.30" y1="489.00" x2="1078.00" y2="489.00" stroke="#000" stroke-width="1.5"/>
<text x="865.30" y="521.00" font-size="22.5" text-anchor="middle" font-weight="bold" fill="#000">1</text>
<text x="1005.30" y="522.70" font-size="22.5" text-anchor="middle" font-weight="bold" fill="#000">2</text>
<line x1="795.30" y1="538.00" x2="1077.00" y2="538.00" stroke="#000" stroke-width="1.5"/>
<text x="937.30" y="572.00" font-size="23" text-anchor="middle" fill="#000">Compounds (μM)</text>
</g>
<g id="footer-C">
<text x="1245.00" y="451.60" font-size="23" text-anchor="end" fill="#000">LPS</text>
<text x="1274.90" y="449.50" font-size="24" text-anchor="middle" fill="#000">-</text>
<text x="1324.50" y="447.80" font-size="20" text-anchor="middle" fill="#000">+</text>
<text x="1373.40" y="447.80" font-size="20" text-anchor="middle" fill="#000">+</text>
<text x="1421.90" y="447.80" font-size="20" text-anchor="middle" fill="#000">+</text>
<text x="1471.70" y="447.80" font-size="20" text-anchor="middle" fill="#000">+</text>
<text x="1520.40" y="447.80" font-size="20" text-anchor="middle" fill="#000">+</text>
<text x="1569.00" y="447.80" font-size="20" text-anchor="middle" fill="#000">+</text>
<text x="1619.20" y="447.80" font-size="20" text-anchor="middle" fill="#000">+</text>
<text x="1373.00" y="478.00" font-size="23" text-anchor="middle" fill="#000">50</text>
<text x="1421.50" y="478.00" font-size="23" text-anchor="middle" fill="#000">100</text>
<text x="1471.30" y="478.00" font-size="23" text-anchor="middle" fill="#000">200</text>
<text x="1520.00" y="478.00" font-size="23" text-anchor="middle" fill="#000">50</text>
<text x="1570.60" y="478.00" font-size="23" text-anchor="middle" fill="#000">100</text>
<text x="1620.30" y="478.00" font-size="23" text-anchor="middle" fill="#000">200</text>
<line x1="1360.00" y1="489.00" x2="1496.70" y2="489.00" stroke="#000" stroke-width="1.5"/>
<line x1="1505.70" y1="489.00" x2="1642.70" y2="489.00" stroke="#000" stroke-width="1.5"/>
<text x="1430.00" y="521.00" font-size="22.5" text-anchor="middle" font-weight="bold" fill="#000">1</text>
<text x="1570.00" y="522.70" font-size="22.5" text-anchor="middle" font-weight="bold" fill="#000">2</text>
<line x1="1360.00" y1="538.00" x2="1641.70" y2="538.00" stroke="#000" stroke-width="1.5"/>
<text x="1501.50" y="572.00" font-size="23" text-anchor="middle" fill="#000">Compounds (μM)</text>
</g>
<g id="footer-D">
<text x="93.20" y="931.30" font-size="23" text-anchor="end" fill="#000">LPS</text>
<text x="135.80" y="929.50" font-size="22" text-anchor="middle" fill="#000">−</text>
<text x="185.80" y="929.50" font-size="22" text-anchor="middle" fill="#000">+</text>
<text x="235.10" y="929.50" font-size="22" text-anchor="middle" fill="#000">+</text>
<text x="284.80" y="929.50" font-size="22" text-anchor="middle" fill="#000">+</text>
<text x="334.80" y="929.50" font-size="22" text-anchor="middle" fill="#000">+</text>
<text x="384.50" y="929.50" font-size="22" text-anchor="middle" fill="#000">+</text>
<text x="434.10" y="929.50" font-size="22" text-anchor="middle" fill="#000">+</text>
<text x="484.10" y="929.50" font-size="22" text-anchor="middle" fill="#000">+</text>
<text x="236.20" y="959.70" font-size="23" text-anchor="middle" fill="#000">50</text>
<text x="284.80" y="959.70" font-size="23" text-anchor="middle" fill="#000">100</text>
<text x="334.40" y="959.70" font-size="23" text-anchor="middle" fill="#000">200</text>
<text x="385.00" y="959.70" font-size="23" text-anchor="middle" fill="#000">50</text>
<text x="433.00" y="959.70" font-size="23" text-anchor="middle" fill="#000">100</text>
<text x="483.50" y="959.70" font-size="23" text-anchor="middle" fill="#000">200</text>
<line x1="222.70" y1="970.70" x2="360.00" y2="970.70" stroke="#000" stroke-width="1.5"/>
<line x1="368.30" y1="970.70" x2="505.70" y2="970.70" stroke="#000" stroke-width="1.5"/>
<text x="292.70" y="1003.00" font-size="22.5" text-anchor="middle" font-weight="bold" fill="#000">1</text>
<text x="432.70" y="1004.70" font-size="22.5" text-anchor="middle" font-weight="bold" fill="#000">2</text>
<line x1="222.70" y1="1020.00" x2="504.30" y2="1020.00" stroke="#000" stroke-width="1.5"/>
<text x="364.70" y="1053.80" font-size="23" text-anchor="middle" fill="#000">Compounds (μM)</text>
</g>
<g id="footer-E">
<text x="679.20" y="1027.90" font-size="23" text-anchor="end" fill="#000">LPS</text>
<text x="710.60" y="1027.80" font-size="24" text-anchor="middle" fill="#000">-</text>
<text x="759.40" y="1027.00" font-size="22" text-anchor="middle" fill="#000">+</text>
<text x="808.70" y="1027.00" font-size="22" text-anchor="middle" fill="#000">+</text>
<text x="857.70" y="1027.00" font-size="22" text-anchor="middle" fill="#000">+</text>
<text x="907.10" y="1027.00" font-size="22" text-anchor="middle" fill="#000">+</text>
<text x="956.40" y="1027.00" font-size="22" text-anchor="middle" fill="#000">+</text>
<text x="1005.70" y="1027.00" font-size="22" text-anchor="middle" fill="#000">+</text>
<text x="1054.70" y="1027.00" font-size="22" text-anchor="middle" fill="#000">+</text>
<text x="807.10" y="1054.70" font-size="23" text-anchor="middle" fill="#000">50</text>
<text x="856.10" y="1054.70" font-size="23" text-anchor="middle" fill="#000">100</text>
<text x="904.00" y="1054.70" font-size="23" text-anchor="middle" fill="#000">200</text>
<text x="956.30" y="1054.70" font-size="23" text-anchor="middle" fill="#000">50</text>
<text x="1004.10" y="1054.70" font-size="23" text-anchor="middle" fill="#000">100</text>
<text x="1054.00" y="1054.70" font-size="23" text-anchor="middle" fill="#000">200</text>
<line x1="793.00" y1="1065.30" x2="930.30" y2="1065.30" stroke="#000" stroke-width="1.5"/>
<line x1="939.30" y1="1065.30" x2="1076.50" y2="1065.30" stroke="#000" stroke-width="1.5"/>
<text x="864.30" y="1097.70" font-size="22.5" text-anchor="middle" font-weight="bold" fill="#000">1</text>
<text x="1003.70" y="1099.40" font-size="22.5" text-anchor="middle" font-weight="bold" fill="#000">2</text>
<line x1="793.00" y1="1115.00" x2="1075.00" y2="1115.00" stroke="#000" stroke-width="1.5"/>
<text x="935.70" y="1149.20" font-size="23" text-anchor="middle" fill="#000">Compounds (μM)</text>
</g>
<g id="footer-F">
<text x="1235.50" y="1027.90" font-size="23" text-anchor="end" fill="#000">LPS</text>
<text x="1265.00" y="1027.80" font-size="24" text-anchor="middle" fill="#000">-</text>
<text x="1313.80" y="1027.30" font-size="22" text-anchor="middle" fill="#000">+</text>
<text x="1363.20" y="1027.30" font-size="22" text-anchor="middle" fill="#000">+</text>
<text x="1412.20" y="1027.30" font-size="22" text-anchor="middle" fill="#000">+</text>
<text x="1461.50" y="1027.30" font-size="22" text-anchor="middle" fill="#000">+</text>
<text x="1510.80" y="1027.30" font-size="22" text-anchor="middle" fill="#000">+</text>
<text x="1560.20" y="1027.30" font-size="22" text-anchor="middle" fill="#000">+</text>
<text x="1609.50" y="1027.30" font-size="22" text-anchor="middle" fill="#000">+</text>
<text x="1363.00" y="1054.70" font-size="23" text-anchor="middle" fill="#000">50</text>
<text x="1412.00" y="1054.70" font-size="23" text-anchor="middle" fill="#000">100</text>
<text x="1461.30" y="1054.70" font-size="23" text-anchor="middle" fill="#000">200</text>
<text x="1510.60" y="1054.70" font-size="23" text-anchor="middle" fill="#000">50</text>
<text x="1559.80" y="1054.70" font-size="23" text-anchor="middle" fill="#000">100</text>
<text x="1610.30" y="1054.70" font-size="23" text-anchor="middle" fill="#000">200</text>
<line x1="1350.00" y1="1065.30" x2="1487.30" y2="1065.30" stroke="#000" stroke-width="1.5"/>
<line x1="1496.00" y1="1065.30" x2="1632.70" y2="1065.30" stroke="#000" stroke-width="1.5"/>
<text x="1420.00" y="1097.70" font-size="22.5" text-anchor="middle" font-weight="bold" fill="#000">1</text>
<text x="1560.70" y="1099.40" font-size="22.5" text-anchor="middle" font-weight="bold" fill="#000">2</text>
<line x1="1350.00" y1="1115.00" x2="1631.70" y2="1115.00" stroke="#000" stroke-width="1.5"/>
<text x="1492.00" y="1149.20" font-size="23" text-anchor="middle" fill="#000">Compounds (μM)</text>
</g>
<g id="footer-G">
<text x="129.80" y="1602.90" font-size="23" text-anchor="end" fill="#000">LPS</text>
<text x="162.00" y="1600.80" font-size="24" text-anchor="middle" fill="#000">-</text>
<text x="210.80" y="1599.10" font-size="20" text-anchor="middle" fill="#000">+</text>
<text x="258.80" y="1599.10" font-size="20" text-anchor="middle" fill="#000">+</text>
<text x="306.80" y="1599.10" font-size="20" text-anchor="middle" fill="#000">+</text>
<text x="355.80" y="1599.10" font-size="20" text-anchor="middle" fill="#000">+</text>
<text x="403.80" y="1599.10" font-size="20" text-anchor="middle" fill="#000">+</text>
<text x="452.10" y="1599.10" font-size="20" text-anchor="middle" fill="#000">+</text>
<text x="501.10" y="1599.10" font-size="20" text-anchor="middle" fill="#000">+</text>
<text x="257.60" y="1629.00" font-size="23" text-anchor="middle" fill="#000">50</text>
<text x="306.80" y="1629.00" font-size="23" text-anchor="middle" fill="#000">100</text>
<text x="355.80" y="1629.00" font-size="23" text-anchor="middle" fill="#000">200</text>
<text x="405.00" y="1629.00" font-size="23" text-anchor="middle" fill="#000">50</text>
<text x="453.80" y="1629.00" font-size="23" text-anchor="middle" fill="#000">100</text>
<text x="505.40" y="1629.00" font-size="23" text-anchor="middle" fill="#000">200</text>
<line x1="245.00" y1="1640.00" x2="381.70" y2="1640.00" stroke="#000" stroke-width="1.5"/>
<line x1="390.70" y1="1640.00" x2="527.70" y2="1640.00" stroke="#000" stroke-width="1.5"/>
<text x="315.00" y="1672.70" font-size="22.5" text-anchor="middle" font-weight="bold" fill="#000">1</text>
<text x="455.00" y="1674.40" font-size="22.5" text-anchor="middle" font-weight="bold" fill="#000">2</text>
<line x1="245.00" y1="1689.30" x2="526.70" y2="1689.30" stroke="#000" stroke-width="1.5"/>
<text x="386.70" y="1724.10" font-size="23" text-anchor="middle" fill="#000">Compounds (μM)</text>
</g>
<g id="footer-H">
<text x="693.20" y="1602.00" font-size="23" text-anchor="end" fill="#000">LPS</text>
<text x="724.60" y="1600.80" font-size="24" text-anchor="middle" fill="#000">-</text>
<text x="773.20" y="1599.10" font-size="20" text-anchor="middle" fill="#000">+</text>
<text x="821.20" y="1599.10" font-size="20" text-anchor="middle" fill="#000">+</text>
<text x="869.20" y="1599.10" font-size="20" text-anchor="middle" fill="#000">+</text>
<text x="918.20" y="1599.10" font-size="20" text-anchor="middle" fill="#000">+</text>
<text x="966.20" y="1599.10" font-size="20" text-anchor="middle" fill="#000">+</text>
<text x="1014.20" y="1599.10" font-size="20" text-anchor="middle" fill="#000">+</text>
<text x="1063.60" y="1599.10" font-size="20" text-anchor="middle" fill="#000">+</text>
<text x="821.10" y="1628.20" font-size="23" text-anchor="middle" fill="#000">50</text>
<text x="869.10" y="1628.20" font-size="23" text-anchor="middle" fill="#000">100</text>
<text x="919.00" y="1628.20" font-size="23" text-anchor="middle" fill="#000">200</text>
<text x="967.90" y="1628.20" font-size="23" text-anchor="middle" fill="#000">50</text>
<text x="1018.10" y="1628.20" font-size="23" text-anchor="middle" fill="#000">100</text>
<text x="1068.10" y="1628.20" font-size="23" text-anchor="middle" fill="#000">200</text>
<line x1="807.70" y1="1639.10" x2="944.70" y2="1639.10" stroke="#000" stroke-width="1.5"/>
<line x1="953.70" y1="1639.10" x2="1090.70" y2="1639.10" stroke="#000" stroke-width="1.5"/>
<text x="877.70" y="1671.20" font-size="22.5" text-anchor="middle" font-weight="bold" fill="#000">1</text>
<text x="1017.60" y="1672.90" font-size="22.5" text-anchor="middle" font-weight="bold" fill="#000">2</text>
<line x1="807.70" y1="1687.80" x2="1089.70" y2="1687.80" stroke="#000" stroke-width="1.5"/>
<text x="949.50" y="1722.80" font-size="23" text-anchor="middle" fill="#000">Compounds (μM)</text>
</g>
<g id="footer-I">
<text x="1253.20" y="1604.90" font-size="23" text-anchor="end" fill="#000">LPS</text>
<text x="1282.90" y="1600.80" font-size="24" text-anchor="middle" fill="#000">-</text>
<text x="1331.50" y="1599.10" font-size="20" text-anchor="middle" fill="#000">+</text>
<text x="1379.50" y="1599.10" font-size="20" text-anchor="middle" fill="#000">+</text>
<text x="1427.50" y="1599.10" font-size="20" text-anchor="middle" fill="#000">+</text>
<text x="1476.50" y="1599.10" font-size="20" text-anchor="middle" fill="#000">+</text>
<text x="1524.50" y="1599.10" font-size="20" text-anchor="middle" fill="#000">+</text>
<text x="1572.50" y="1599.10" font-size="20" text-anchor="middle" fill="#000">+</text>
<text x="1621.90" y="1599.10" font-size="20" text-anchor="middle" fill="#000">+</text>
<text x="1380.60" y="1630.00" font-size="23" text-anchor="middle" fill="#000">50</text>
<text x="1429.10" y="1630.00" font-size="23" text-anchor="middle" fill="#000">100</text>
<text x="1478.40" y="1630.00" font-size="23" text-anchor="middle" fill="#000">200</text>
<text x="1528.10" y="1630.00" font-size="23" text-anchor="middle" fill="#000">50</text>
<text x="1577.60" y="1630.00" font-size="23" text-anchor="middle" fill="#000">100</text>
<text x="1628.50" y="1630.00" font-size="23" text-anchor="middle" fill="#000">200</text>
<line x1="1367.70" y1="1641.00" x2="1505.00" y2="1641.00" stroke="#000" stroke-width="1.5"/>
<line x1="1513.70" y1="1641.00" x2="1651.00" y2="1641.00" stroke="#000" stroke-width="1.5"/>
<text x="1438.30" y="1674.30" font-size="22.5" text-anchor="middle" font-weight="bold" fill="#000">1</text>
<text x="1577.70" y="1676.00" font-size="22.5" text-anchor="middle" font-weight="bold" fill="#000">2</text>
<line x1="1367.70" y1="1690.70" x2="1650.00" y2="1690.70" stroke="#000" stroke-width="1.5"/>
<text x="1509.70" y="1725.60" font-size="23" text-anchor="middle" fill="#000">Compounds (μM)</text>
</g>
<g id="footer-J">
<text transform="translate(184.60 2217.80) rotate(-90)" font-size="21" text-anchor="middle" fill="#000">CON</text>
<text transform="translate(221.60 2217.80) rotate(-90)" font-size="21" text-anchor="middle" fill="#000">LPS</text>
<text x="277.00" y="2215.00" font-size="21" text-anchor="middle" fill="#000">50</text>
<text x="313.10" y="2215.00" font-size="21" text-anchor="middle" fill="#000">100</text>
<text x="353.80" y="2215.00" font-size="21" text-anchor="middle" fill="#000">200</text>
<text x="415.40" y="2215.00" font-size="21" text-anchor="middle" fill="#000">50</text>
<text x="451.20" y="2215.00" font-size="21" text-anchor="middle" fill="#000">100</text>
<text x="491.90" y="2215.00" font-size="21" text-anchor="middle" fill="#000">200</text>
<text x="550.20" y="2215.00" font-size="21" text-anchor="middle" fill="#000">50</text>
<text x="586.40" y="2215.00" font-size="21" text-anchor="middle" fill="#000">100</text>
<text x="626.90" y="2215.00" font-size="21" text-anchor="middle" fill="#000">200</text>
<text x="686.10" y="2215.00" font-size="21" text-anchor="middle" fill="#000">50</text>
<text x="721.90" y="2215.00" font-size="21" text-anchor="middle" fill="#000">100</text>
<text x="763.20" y="2215.00" font-size="21" text-anchor="middle" fill="#000">200</text>
<line x1="265.70" y1="2227.00" x2="366.70" y2="2227.00" stroke="#000" stroke-width="1.3"/>
<line x1="405.00" y1="2227.00" x2="506.00" y2="2227.00" stroke="#000" stroke-width="1.3"/>
<line x1="540.00" y1="2227.00" x2="640.70" y2="2227.00" stroke="#000" stroke-width="1.3"/>
<line x1="676.70" y1="2227.00" x2="777.70" y2="2227.00" stroke="#000" stroke-width="1.3"/>
<text x="314.20" y="2256.00" font-size="20.6" text-anchor="middle" fill="#000">LPS (-)</text>
<text x="459.30" y="2256.00" font-size="20.6" text-anchor="middle" fill="#000">LPS (+)</text>
<text x="595.00" y="2255.00" font-size="20.6" text-anchor="middle" fill="#000">LPS  (-)</text>
<text x="729.50" y="2258.30" font-size="20.6" text-anchor="middle" fill="#000">LPS  (+)</text>
<line x1="265.70" y1="2270.00" x2="507.70" y2="2270.00" stroke="#000" stroke-width="1.3"/>
<line x1="538.30" y1="2270.00" x2="780.00" y2="2270.00" stroke="#000" stroke-width="1.3"/>
<text x="385.00" y="2301.70" font-size="22.5" text-anchor="middle" font-weight="bold" fill="#000">1</text>
<text x="661.00" y="2303.20" font-size="22.5" text-anchor="middle" font-weight="bold" fill="#000">2</text>
<line x1="265.70" y1="2317.90" x2="782.30" y2="2317.90" stroke="#000" stroke-width="1.5"/>
<text x="520.80" y="2347.90" font-size="23" text-anchor="middle" fill="#000">Compounds (μM)</text>
</g>
<g id="footer-K">
<text transform="translate(1009.30 2217.80) rotate(-90)" font-size="21" text-anchor="middle" fill="#000">CON</text>
<text transform="translate(1046.30 2217.80) rotate(-90)" font-size="21" text-anchor="middle" fill="#000">IL-4</text>
<text x="1101.80" y="2215.00" font-size="21" text-anchor="middle" fill="#000">50</text>
<text x="1137.50" y="2215.00" font-size="21" text-anchor="middle" fill="#000">100</text>
<text x="1178.50" y="2215.00" font-size="21" text-anchor="middle" fill="#000">200</text>
<text x="1240.50" y="2215.00" font-size="21" text-anchor="middle" fill="#000">50</text>
<text x="1276.00" y="2215.00" font-size="21" text-anchor="middle" fill="#000">100</text>
<text x="1316.90" y="2215.00" font-size="21" text-anchor="middle" fill="#000">200</text>
<text x="1375.10" y="2215.00" font-size="21" text-anchor="middle" fill="#000">50</text>
<text x="1410.00" y="2215.00" font-size="21" text-anchor="middle" fill="#000">100</text>
<text x="1451.30" y="2215.00" font-size="21" text-anchor="middle" fill="#000">200</text>
<text x="1510.70" y="2215.00" font-size="21" text-anchor="middle" fill="#000">50</text>
<text x="1546.30" y="2215.00" font-size="21" text-anchor="middle" fill="#000">100</text>
<text x="1587.20" y="2215.00" font-size="21" text-anchor="middle" fill="#000">200</text>
<line x1="1090.00" y1="2227.00" x2="1191.00" y2="2227.00" stroke="#000" stroke-width="1.3"/>
<line x1="1229.30" y1="2227.00" x2="1330.30" y2="2227.00" stroke="#000" stroke-width="1.3"/>
<line x1="1364.30" y1="2227.00" x2="1465.00" y2="2227.00" stroke="#000" stroke-width="1.3"/>
<line x1="1501.70" y1="2227.00" x2="1602.30" y2="2227.00" stroke="#000" stroke-width="1.3"/>
<text x="1139.70" y="2256.00" font-size="20.6" text-anchor="middle" fill="#000">IL-4 (-)</text>
<text x="1281.30" y="2256.00" font-size="20.6" text-anchor="middle" fill="#000">IL-4 (+)</text>
<text x="1412.20" y="2255.00" font-size="20.6" text-anchor="middle" fill="#000">IL-4 (-)</text>
<text x="1556.00" y="2258.30" font-size="20.6" text-anchor="middle" fill="#000">IL-4  (+)</text>
<line x1="1090.00" y1="2270.00" x2="1332.30" y2="2270.00" stroke="#000" stroke-width="1.3"/>
<line x1="1362.30" y1="2270.00" x2="1604.30" y2="2270.00" stroke="#000" stroke-width="1.3"/>
<text x="1210.70" y="2301.70" font-size="22.5" text-anchor="middle" font-weight="bold" fill="#000">1</text>
<text x="1486.00" y="2303.20" font-size="22.5" text-anchor="middle" font-weight="bold" fill="#000">2</text>
<line x1="1098.30" y1="2316.40" x2="1615.70" y2="2316.40" stroke="#000" stroke-width="1.5"/>
<text x="1354.00" y="2346.70" font-size="23" text-anchor="middle" fill="#000">Compounds (μM)</text>
</g>
<g id="panel-D">
<text transform="translate(94.00 604.70) scale(0.96 1)" font-size="37.5" text-anchor="start" font-weight="bold" fill="#000">D</text>
<defs>
<filter id="bl2" x="-20%" y="-60%" width="140%" height="220%"><feGaussianBlur stdDeviation="3 2.4"/></filter>
<filter id="bl3" x="-20%" y="-60%" width="140%" height="220%"><feGaussianBlur stdDeviation="2 2.2"/></filter>
<filter id="bl1" x="-30%" y="-30%" width="160%" height="160%"><feGaussianBlur stdDeviation="1.3 0.6"/></filter>
<filter id="bl4" x="-60%" y="-30%" width="220%" height="160%"><feGaussianBlur stdDeviation="3 1"/></filter>
<filter id="bl8" x="-400%" y="-150%" width="900%" height="400%"><feGaussianBlur stdDeviation="9 6"/></filter>
<filter id="noiseA" x="0" y="0" width="100%" height="100%"><feTurbulence type="fractalNoise" baseFrequency="0.42" numOctaves="2" seed="7" result="n"/><feColorMatrix type="matrix" values="0 0 0 0 0  0 0 0 0 0  0 0 0 0 0  1.6 0 0 0 -0.62"/></filter>
<filter id="noiseB" x="0" y="0" width="100%" height="100%"><feTurbulence type="fractalNoise" baseFrequency="0.3 0.12" numOctaves="2" seed="3" result="n"/><feColorMatrix type="matrix" values="0 0 0 0 1  0 0 0 0 1  0 0 0 0 1  1.5 0 0 0 -0.55"/></filter>
<linearGradient id="gcox" x1="0" x2="1" y1="0" y2="0"><stop offset="0" stop-color="#e2e2e2"/><stop offset="0.09" stop-color="#d8d8d8"/><stop offset="0.2" stop-color="#bcbcbc"/><stop offset="0.45" stop-color="#acacac"/><stop offset="0.62" stop-color="#adadad"/><stop offset="0.70" stop-color="#c4c4c4"/><stop offset="1" stop-color="#cfcfcf"/></linearGradient>
<linearGradient id="gcoxv" x1="0" x2="0" y1="0" y2="1"><stop offset="0" stop-color="#000" stop-opacity="0.08"/><stop offset="0.5" stop-color="#000" stop-opacity="0"/><stop offset="1" stop-color="#fff" stop-opacity="0.12"/></linearGradient>
<linearGradient id="ggap" x1="0" x2="1" y1="0" y2="0"><stop offset="0" stop-color="#f3f3f3"/><stop offset="0.3" stop-color="#ebebeb"/><stop offset="1" stop-color="#e6e6e6"/></linearGradient>
<clipPath id="cb0"><rect x="93.6" y="676.6" width="436.60" height="67.20"/></clipPath>
<clipPath id="cb1"><rect x="93.6" y="755.4" width="436.60" height="67.00"/></clipPath>
<clipPath id="cb2"><rect x="93.6" y="833.4" width="436.60" height="67.80"/></clipPath>
</defs>
<text x="81.70" y="716.00" font-size="23" text-anchor="end" fill="#000">COX-2</text>
<text x="81.70" y="794.00" font-size="23" text-anchor="end" fill="#000">iNOS</text>
<text x="81.70" y="874.00" font-size="23" text-anchor="end" fill="#000">GAPDH</text>
<g clip-path="url(#cb0)">
<rect x="93.6" y="676.6" width="436.60" height="67.20" fill="url(#gcox)"/>
<rect x="93.6" y="676.6" width="436.60" height="67.20" fill="url(#gcoxv)"/>
<ellipse cx="300" cy="728" rx="11.0" ry="9.0" fill="#000" opacity="0.18" filter="url(#bl8)"/>
<ellipse cx="366" cy="714" rx="4.5" ry="28.0" fill="#000" opacity="0.22" filter="url(#bl8)"/>
<ellipse cx="262" cy="684" rx="30.0" ry="7.0" fill="#000" opacity="0.12" filter="url(#bl8)"/>
<ellipse cx="140" cy="684" rx="20.0" ry="6.0" fill="#000" opacity="0.1" filter="url(#bl8)"/>
<ellipse cx="232" cy="708" rx="25.0" ry="20.0" fill="#000" opacity="0.1" filter="url(#bl8)"/>
<ellipse cx="286" cy="706" rx="25.0" ry="20.0" fill="#000" opacity="0.12" filter="url(#bl8)"/>
<ellipse cx="340" cy="704" rx="23.0" ry="22.0" fill="#000" opacity="0.16" filter="url(#bl8)"/>
<ellipse cx="180" cy="700" rx="20.0" ry="20.0" fill="#000" opacity="0.06" filter="url(#bl8)"/>
<rect x="141" y="673.6" width="13.0" height="73.2" fill="#000" opacity="0.1" filter="url(#bl4)"/>
<rect x="194" y="673.6" width="13.0" height="73.2" fill="#000" opacity="0.1" filter="url(#bl4)"/>
<rect x="248" y="673.6" width="12.0" height="73.2" fill="#000" opacity="0.1" filter="url(#bl4)"/>
<rect x="304.5" y="673.6" width="12.5" height="73.2" fill="#000" opacity="0.13" filter="url(#bl4)"/>
<rect x="358" y="673.6" width="13.0" height="73.2" fill="#000" opacity="0.15" filter="url(#bl4)"/>
<rect x="411" y="673.6" width="11.0" height="73.2" fill="#000" opacity="0.06" filter="url(#bl4)"/>
<rect x="465" y="673.6" width="11.0" height="73.2" fill="#000" opacity="0.05" filter="url(#bl4)"/>
<rect x="150" y="670.6" width="215" height="22" fill="#000" opacity="0.10" filter="url(#bl8)"/>
<rect x="93.6" y="676.6" width="436.60" height="67.20" fill="#000" opacity="0.26" filter="url(#noiseA)"/>
<rect x="155.5" y="704.0" width="37.5" height="9.5" rx="4" fill="#000" opacity="0.68" filter="url(#bl2)"/>
<rect x="211" y="702.5" width="40.5" height="12.5" rx="4" fill="#000" opacity="0.86" filter="url(#bl2)"/>
<rect x="266" y="702.0" width="38.5" height="12.0" rx="4" fill="#000" opacity="0.88" filter="url(#bl2)"/>
<rect x="322" y="701.0" width="37.0" height="13.0" rx="4" fill="#000" opacity="0.9" filter="url(#bl2)"/>
<rect x="375.5" y="707.5" width="34.5" height="9.5" rx="4" fill="#000" opacity="0.36" filter="url(#bl2)"/>
<rect x="430" y="710.5" width="31.0" height="6.0" rx="4" fill="#000" opacity="0.1" filter="url(#bl2)"/>
</g>
<rect x="93.6" y="676.6" width="436.60" height="67.20" fill="none" stroke="#000" stroke-width="1.7"/>
<g clip-path="url(#cb1)">
<rect x="93.6" y="755.4" width="436.60" height="67.00" fill="#f7f7f7"/>
<rect x="92" y="752.4" width="6.5" height="73.0" fill="#000" opacity="0.55" filter="url(#bl1)"/>
<rect x="140.5" y="752.4" width="15.0" height="73.0" fill="#000" opacity="0.5" filter="url(#bl1)"/>
<rect x="193.5" y="752.4" width="15.0" height="73.0" fill="#000" opacity="0.47" filter="url(#bl1)"/>
<rect x="247" y="752.4" width="15.0" height="73.0" fill="#000" opacity="0.47" filter="url(#bl1)"/>
<rect x="304" y="752.4" width="15.0" height="73.0" fill="#000" opacity="0.52" filter="url(#bl1)"/>
<rect x="357" y="752.4" width="15.0" height="73.0" fill="#000" opacity="0.5" filter="url(#bl1)"/>
<rect x="410.5" y="752.4" width="13.5" height="73.0" fill="#000" opacity="0.44" filter="url(#bl1)"/>
<rect x="464.5" y="752.4" width="14.0" height="73.0" fill="#000" opacity="0.44" filter="url(#bl1)"/>
<rect x="522.5" y="752.4" width="8.5" height="73.0" fill="#000" opacity="0.5" filter="url(#bl1)"/>
<rect x="93.6" y="755.4" width="436.60" height="67.00" opacity="0.35" filter="url(#noiseB)"/>
<rect x="156.0" y="798.7" width="38.0" height="15.1" rx="2.5" fill="#000" opacity="0.97" filter="url(#bl3)" transform="rotate(-1 175.0 806.2)"/>
<rect x="209.5" y="789.7" width="37.5" height="16.6" rx="2.5" fill="#000" opacity="0.96" filter="url(#bl3)" transform="rotate(3 228.2 798.0)"/>
<rect x="262.5" y="788.7" width="41.0" height="18.1" rx="2.5" fill="#000" opacity="0.97" filter="url(#bl3)" transform="rotate(-2 283.0 797.8)"/>
<rect x="319.0" y="788.7" width="37.0" height="10.1" rx="2.5" fill="#000" opacity="0.93" filter="url(#bl3)" transform="rotate(-2 337.5 793.8)"/>
<rect x="371.5" y="781.7" width="39.0" height="10.1" rx="2.5" fill="#000" opacity="0.5" filter="url(#bl3)" transform="rotate(0 391.0 786.8)"/>
</g>
<rect x="93.6" y="755.4" width="436.60" height="67.00" fill="none" stroke="#000" stroke-width="1.7"/>
<g clip-path="url(#cb2)">
<rect x="93.6" y="833.4" width="436.60" height="67.80" fill="url(#ggap)"/>
<rect x="104.5" y="868.5" width="41.0" height="13.5" rx="5" fill="#000" opacity="0.16" filter="url(#bl2)" transform="rotate(0 125.0 877.8)"/>
<rect x="103.0" y="871.5" width="44.0" height="12.0" rx="5" fill="#000" opacity="0.97" filter="url(#bl3)" transform="rotate(0 125.0 877.8)"/>
<rect x="159.5" y="866.5" width="39.0" height="15.5" rx="5" fill="#000" opacity="0.16" filter="url(#bl2)" transform="rotate(-3 179.0 876.8)"/>
<rect x="158.0" y="869.5" width="42.0" height="14.0" rx="5" fill="#000" opacity="0.97" filter="url(#bl3)" transform="rotate(-3 179.0 876.8)"/>
<rect x="212.5" y="865.5" width="38.5" height="13.5" rx="5" fill="#000" opacity="0.16" filter="url(#bl2)" transform="rotate(-2 231.8 874.8)"/>
<rect x="211.0" y="868.5" width="41.5" height="12.0" rx="5" fill="#000" opacity="0.97" filter="url(#bl3)" transform="rotate(-2 231.8 874.8)"/>
<rect x="265.5" y="863" width="39.0" height="14.5" rx="5" fill="#000" opacity="0.16" filter="url(#bl2)" transform="rotate(-3 285.0 872.8)"/>
<rect x="264.0" y="866" width="42.0" height="13.0" rx="5" fill="#000" opacity="0.97" filter="url(#bl3)" transform="rotate(-3 285.0 872.8)"/>
<rect x="318" y="860" width="39.0" height="14.0" rx="5" fill="#000" opacity="0.16" filter="url(#bl2)" transform="rotate(0 337.5 869.5)"/>
<rect x="316.5" y="863" width="42.0" height="12.5" rx="5" fill="#000" opacity="0.97" filter="url(#bl3)" transform="rotate(0 337.5 869.5)"/>
<rect x="370.5" y="859" width="39.0" height="14.0" rx="5" fill="#000" opacity="0.16" filter="url(#bl2)" transform="rotate(-1 390.0 868.5)"/>
<rect x="369.0" y="862" width="42.0" height="12.5" rx="5" fill="#000" opacity="0.97" filter="url(#bl3)" transform="rotate(-1 390.0 868.5)"/>
<rect x="423" y="858.5" width="39.5" height="12.0" rx="5" fill="#000" opacity="0.16" filter="url(#bl2)" transform="rotate(0 442.8 867.0)"/>
<rect x="421.5" y="861.5" width="42.5" height="10.5" rx="5" fill="#000" opacity="0.97" filter="url(#bl3)" transform="rotate(0 442.8 867.0)"/>
<rect x="477" y="855.5" width="41.5" height="13.0" rx="5" fill="#000" opacity="0.16" filter="url(#bl2)" transform="rotate(-6 497.8 864.5)"/>
<rect x="475.5" y="858.5" width="44.5" height="11.5" rx="5" fill="#000" opacity="0.97" filter="url(#bl3)" transform="rotate(-6 497.8 864.5)"/>
</g>
<rect x="93.6" y="833.4" width="436.60" height="67.80" fill="none" stroke="#000" stroke-width="1.7"/>
</g>
</svg>
</body></html>
